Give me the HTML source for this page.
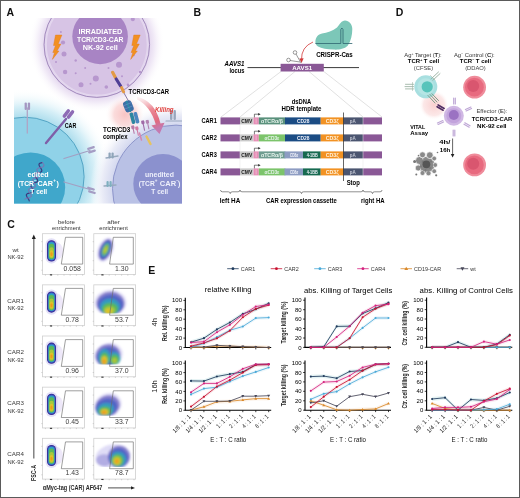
<!DOCTYPE html>
<html><head><meta charset="utf-8"><style>
html,body{margin:0;padding:0;background:#fff;}
body{width:520px;height:498px;overflow:hidden;}
svg{display:block;font-family:"Liberation Sans",sans-serif;will-change:transform;}
</style></head><body>
<svg width="520" height="498" viewBox="0 0 520 498">
<defs><clipPath id="cpA"><rect x="14" y="18" width="168" height="185.5"/></clipPath><clipPath id="cpTop"><circle cx="97" cy="45" r="54"/></clipPath><radialGradient id="gTop" cx="96.8" cy="44.6" r="68" gradientUnits="userSpaceOnUse">
      <stop offset="0.776" stop-color="#e6daf0"/><stop offset="0.86" stop-color="#f3edf8"/><stop offset="1" stop-color="#fff" stop-opacity="0"/></radialGradient><radialGradient id="gLeft" cx="24.6" cy="176.7" r="88" gradientUnits="userSpaceOnUse">
      <stop offset="0.66" stop-color="#aadcec"/><stop offset="0.8" stop-color="#d6eff7"/><stop offset="1" stop-color="#fff" stop-opacity="0"/></radialGradient><radialGradient id="gRight" cx="176" cy="188.6" r="86" gradientUnits="userSpaceOnUse">
      <stop offset="0.72" stop-color="#d0d5ee"/><stop offset="0.86" stop-color="#eaecf7"/><stop offset="1" stop-color="#fff" stop-opacity="0"/></radialGradient><radialGradient id="gPink" cx="0.5" cy="0.5" r="0.5">
      <stop offset="0" stop-color="#f8c4c4"/><stop offset="0.55" stop-color="#fad6d6" stop-opacity="0.85"/><stop offset="1" stop-color="#fff" stop-opacity="0"/></radialGradient><linearGradient id="gKill" x1="0" y1="0" x2="0.3" y2="1">
      <stop offset="0" stop-color="#f7d6da" stop-opacity="0.2"/><stop offset="0.45" stop-color="#ec8a96"/><stop offset="0.8" stop-color="#e06a80"/><stop offset="1" stop-color="#c47ab0"/></linearGradient><radialGradient id="gPinkD" cx="0.5" cy="0.5" r="0.5">
      <stop offset="0" stop-color="#f9d0d0"/><stop offset="0.7" stop-color="#fbe2e2" stop-opacity="0.8"/><stop offset="1" stop-color="#fff" stop-opacity="0"/></radialGradient><filter id="fb" x="-30%" y="-30%" width="160%" height="160%"><feGaussianBlur stdDeviation="0.7"/></filter><filter id="fb2" x="-30%" y="-30%" width="160%" height="160%"><feGaussianBlur stdDeviation="1.1"/></filter><clipPath id="cpC1"><rect x="90" y="284.8" width="50" height="28.6"/></clipPath><clipPath id="cpC2"><rect x="90" y="336.0" width="50" height="28.6"/></clipPath><clipPath id="cpC3"><rect x="90" y="387.1" width="50" height="28.6"/></clipPath><clipPath id="cpC4"><rect x="90" y="438.3" width="50" height="28.8"/></clipPath></defs>
<rect x="0" y="0" width="520" height="498" fill="#fff"/>
<g clip-path="url(#cpA)">
<rect x="14" y="18" width="168" height="186" fill="#fff"/>
<circle cx="24.6" cy="176.7" r="88" fill="url(#gLeft)"/>
<circle cx="176" cy="188.6" r="86" fill="url(#gRight)"/>
<circle cx="96.8" cy="44.6" r="68" fill="url(#gTop)"/>
<circle cx="96.8" cy="44.6" r="52.8" fill="#d7c4e5"/>
<circle cx="96.8" cy="44.6" r="51.0" fill="none" stroke="#e3d6ee" stroke-width="2.2"/>
<circle cx="96.8" cy="44.6" r="52.8" fill="none" stroke="#9c84b8" stroke-width="0.9"/>
<circle cx="100.1" cy="36.4" r="27.8" fill="#a884c4"/>
<circle cx="63" cy="42.5" r="2.1" fill="#b797ce"/>
<circle cx="64" cy="54" r="2.5" fill="#b797ce"/>
<circle cx="60.9" cy="32" r="1.0" fill="#b797ce"/>
<circle cx="75.7" cy="60.5" r="1.2" fill="#b797ce"/>
<circle cx="65.1" cy="72" r="2.2" fill="#b797ce"/>
<circle cx="75.7" cy="73.2" r="1.0" fill="#b797ce"/>
<circle cx="85.2" cy="68" r="1.0" fill="#b797ce"/>
<circle cx="81" cy="84.8" r="2.5" fill="#b797ce"/>
<circle cx="95.8" cy="78.5" r="3.0" fill="#b797ce"/>
<circle cx="106.3" cy="87" r="1.8" fill="#b797ce"/>
<circle cx="108.5" cy="68" r="1.0" fill="#b797ce"/>
<circle cx="119" cy="64.7" r="3.0" fill="#b797ce"/>
<circle cx="122" cy="76.3" r="1.0" fill="#b797ce"/>
<circle cx="133.8" cy="55.2" r="1.0" fill="#b797ce"/>
<circle cx="132.8" cy="19.2" r="2.0" fill="#b797ce"/>
<circle cx="90.5" cy="83.8" r="1.0" fill="#b797ce"/>
<circle cx="128" cy="85" r="1.4" fill="#b797ce"/>
<circle cx="140" cy="72" r="1.2" fill="#b797ce"/>
<circle cx="56" cy="62" r="1.0" fill="#b797ce"/>
<path transform="translate(52.4,35)" d="M3.1 0 L9.5 0 L5.8 9 L8.6 9 L4.6 16 L6.6 16 L0 24.4 L2.1 17.5 L0.4 17.5 L3.1 10.5 L1.1 10.5 Z" fill="#f29022" stroke="#e07a18" stroke-width="0.4"/>
<path transform="translate(130.7,35)" d="M3.1 0 L9.5 0 L5.8 9 L8.6 9 L4.6 16 L6.6 16 L0 24.4 L2.1 17.5 L0.4 17.5 L3.1 10.5 L1.1 10.5 Z" fill="#f29022" stroke="#e07a18" stroke-width="0.4"/>
<circle cx="24.6" cy="176.7" r="59.5" fill="#90d2e8"/>
<circle cx="24.6" cy="176.7" r="59.5" fill="none" stroke="#4c9ec0" stroke-width="0.9"/>
<circle cx="30.7" cy="186.9" r="34.5" fill="#40a7cb"/>
<circle cx="176" cy="188.6" r="63.5" fill="#b9c1e5"/>
<circle cx="176" cy="188.6" r="63.5" fill="none" stroke="#878ec6" stroke-width="0.9"/>
<circle cx="163" cy="183.7" r="29.7" fill="#8b91ce"/>
<circle cx="125" cy="114.5" r="20" fill="url(#gPink)"/>
<path d="M137 96.5 Q155 101 160.5 123.5 L164.5 122.8 L159.5 134 L151.5 125.5 L155.8 124.6 Q150.5 106 137 99.5 Z" fill="url(#gKill)"/>
<g stroke-linecap="round">
<line x1="27.3" y1="108" x2="27.3" y2="133" stroke="#b0a4c4" stroke-width="1.3"/>
<rect x="24.6" y="102.5" width="2.3" height="7.5" rx="1.1" fill="#a497c2"/><rect x="27.8" y="102.5" width="2.3" height="7.5" rx="1.1" fill="#a497c2"/>
<line x1="46" y1="143" x2="66" y2="119" stroke="#7f5fa8" stroke-width="2.4"/>
<rect x="64.6" y="108.5" width="3.4" height="10" rx="1.7" fill="#8e6cb6" transform="rotate(38 66.3 113.5)"/>
<rect x="68.8" y="109.5" width="3.4" height="10" rx="1.7" fill="#8e6cb6" transform="rotate(38 70.5 114.5)"/>
<line x1="64" y1="158.5" x2="90" y2="150.5" stroke="#a39fc2" stroke-width="1.3"/>
<rect x="87" y="146.8" width="8" height="2.3" rx="1.1" fill="#a59dc4" transform="rotate(-17 91 148)"/><rect x="88" y="150.3" width="8" height="2.3" rx="1.1" fill="#a59dc4" transform="rotate(-17 92 151.5)"/>
<line x1="64" y1="182" x2="90" y2="189.5" stroke="#a39fc2" stroke-width="1.3"/>
<rect x="87" y="187.5" width="8" height="2.3" rx="1.1" fill="#a59dc4" transform="rotate(17 91 188.6)"/><rect x="88" y="191" width="8" height="2.3" rx="1.1" fill="#a59dc4" transform="rotate(17 92 192)"/>
<polyline points="42.5,162.5 41.3,162.8 40.3,163.1 39.5,163.5 39.1,164.0 39.0,164.7 39.2,165.5 39.7,166.5 40.3,167.4 41.0,168.5 41.5,169.4 41.8,170.3 41.8,171.0 41.4,171.6 40.7,172.0 39.8,172.3 38.6,172.6 37.4,172.8 36.4,173.1 35.5,173.5 35.0,174.0 34.8,174.7 34.9,175.5 35.3,176.4 35.9,177.3 36.6,178.4 37.2,179.3 37.6,180.2 37.6,181.0 37.4,181.6 36.7,182.1 35.8,182.4 34.7,182.7 33.5,182.9 32.4,183.2 31.5,183.6 30.9,184.0 30.6,184.6 30.6,185.4 31.0,186.3 31.6,187.2 32.2,188.3 32.8,189.2 33.3,190.2 33.4,191.0 33.3,191.6 32.7,192.1 31.9,192.5 30.8,192.8 29.7,193.0 28.5,193.3 27.5,193.6 26.8,194.1 26.4,194.6 26.4,195.4 26.7,196.2 27.2,197.2 27.8,198.2 28.5,199.1 29.0,200.1 29.2,200.9" fill="none" stroke="#3b3a7e" stroke-width="1.2"/>
<polyline points="42.5,162.5 43.1,163.5 43.7,164.4 43.9,165.3 43.9,166.0 43.5,166.6 42.7,167.0 41.7,167.3 40.6,167.6 39.4,167.8 38.3,168.1 37.5,168.5 37.0,169.0 36.9,169.7 37.0,170.5 37.5,171.4 38.1,172.4 38.8,173.4 39.3,174.4 39.7,175.2 39.7,176.0 39.4,176.6 38.7,177.0 37.8,177.4 36.7,177.7 35.5,177.9 34.4,178.2 33.5,178.5 32.9,179.0 32.7,179.7 32.8,180.4 33.2,181.3 33.7,182.3 34.4,183.3 35.0,184.3 35.4,185.2 35.5,186.0 35.3,186.6 34.7,187.1 33.9,187.5 32.8,187.8 31.6,188.0 30.5,188.3 29.5,188.6 28.8,189.0 28.5,189.6 28.5,190.4 28.8,191.2 29.4,192.2 30.0,193.2 30.7,194.2 31.1,195.1 31.3,195.9 31.2,196.6 30.7,197.1 29.9,197.5 28.9,197.8 27.7,198.1 26.6,198.4 25.5,198.7 24.8,199.1" fill="none" stroke="#8a6ab0" stroke-width="1.0"/>
<line x1="106" y1="158" x2="118" y2="156" stroke="#98aabd" stroke-width="1.3"/>
<rect x="108.5" y="152.5" width="2.2" height="6" rx="1" fill="#8fa5b9"/><rect x="111.5" y="152.5" width="2.2" height="6" rx="1" fill="#8fa5b9"/>
<line x1="104" y1="186" x2="116" y2="185" stroke="#98aabd" stroke-width="1.3"/>
<rect x="106.5" y="181" width="2.2" height="6" rx="1" fill="#7fb0bf"/><rect x="109.5" y="181" width="2.2" height="6" rx="1" fill="#7fb0bf"/>
<rect x="170" y="110" width="2.4" height="10" rx="1" fill="#98a6bd"/><rect x="173.5" y="110" width="2.4" height="10" rx="1" fill="#98a6bd"/>
<line x1="166" y1="121" x2="182" y2="121" stroke="#98a6bd" stroke-width="1.2"/>
<line x1="112" y1="72" x2="128.5" y2="101" stroke="#6a5a90" stroke-width="0.8"/>
<line x1="112.6" y1="72.3" x2="115.4" y2="77.6" stroke="#e39a45" stroke-width="3.2"/>
<line x1="116.2" y1="79" x2="120.6" y2="86" stroke="#4f3f96" stroke-width="3.2"/>
<line x1="121.6" y1="87.6" x2="123.6" y2="91.8" stroke="#e39a45" stroke-width="3"/>
<g transform="rotate(-22 128.4 106.3)"><rect x="124" y="100.6" width="8.8" height="11.4" rx="3" fill="#3d6ea6"/><line x1="128.4" y1="101" x2="128.4" y2="111.6" stroke="#2a8aa6" stroke-width="1.6"/><line x1="124.5" y1="104" x2="132.3" y2="104" stroke="#6f9cc8" stroke-width="0.5"/><line x1="124.5" y1="107.5" x2="132.3" y2="107.5" stroke="#6f9cc8" stroke-width="0.5"/></g>
<rect x="130.6" y="112.5" width="3.6" height="11.5" rx="1.4" fill="#2d86a0" transform="rotate(-15 132.4 118)"/>
<rect x="134.6" y="112" width="3.6" height="11.5" rx="1.4" fill="#4b86bf" transform="rotate(-15 136.4 117.5)"/>
<g transform="rotate(-12 132.5 125.5)"><rect x="130.9" y="125.5" width="3.2" height="3.6" rx="1" fill="#b87aa8"/><line x1="132.5" y1="128.9" x2="132.5" y2="133.5" stroke="#b87aa8" stroke-width="1.1"/></g>
<g transform="rotate(-12 136.5 126.5)"><rect x="134.9" y="126.5" width="3.2" height="3.6" rx="1" fill="#d27aa2"/><line x1="136.5" y1="129.9" x2="136.5" y2="135.5" stroke="#d27aa2" stroke-width="1.1"/></g>
<g transform="rotate(-12 142.5 120.5)"><rect x="140.9" y="120.5" width="3.2" height="3.6" rx="1" fill="#a06aa8"/><line x1="142.5" y1="123.9" x2="142.5" y2="130.5" stroke="#a06aa8" stroke-width="1.1"/></g>
<g transform="rotate(-12 147 120)"><rect x="145.4" y="120" width="3.2" height="3.6" rx="1" fill="#b383b2"/><line x1="147" y1="123.4" x2="147" y2="129" stroke="#b383b2" stroke-width="1.1"/></g>
<line x1="146.5" y1="136.5" x2="150.5" y2="144" stroke="#e6c35e" stroke-width="2.4"/>
<line x1="139.5" y1="133" x2="141.5" y2="140" stroke="#d486b0" stroke-width="1.5"/>
</g>
<text x="100.30" y="34.00" font-size="7" font-weight="bold" text-anchor="middle" fill="#ffffff" textLength="43.80" lengthAdjust="spacingAndGlyphs">IRRADIATED</text>
<text x="100.30" y="42.30" font-size="7" font-weight="bold" text-anchor="middle" fill="#ffffff" textLength="46.50" lengthAdjust="spacingAndGlyphs">TCR/CD3-CAR</text>
<text x="100.30" y="50.40" font-size="7" font-weight="bold" text-anchor="middle" fill="#ffffff" textLength="35.00" lengthAdjust="spacingAndGlyphs">NK-92 cell</text>
<text x="38.00" y="177.20" font-size="7.0" font-weight="bold" text-anchor="middle" fill="#ffffff" textLength="21.00" lengthAdjust="spacingAndGlyphs">edited</text>
<text x="17.80" y="185.60" font-size="7.2" font-weight="bold" fill="#ffffff" textLength="16.20" lengthAdjust="spacingAndGlyphs">(TCR</text>
<text x="33.90" y="182.00" font-size="4.5" font-weight="bold" fill="#ffffff">−</text>
<text x="37.40" y="185.60" font-size="7.2" font-weight="bold" fill="#ffffff" textLength="15.60" lengthAdjust="spacingAndGlyphs">CAR</text>
<text x="53.30" y="182.00" font-size="4.5" font-weight="bold" fill="#ffffff">+</text>
<text x="56.40" y="185.60" font-size="7.2" font-weight="bold" fill="#ffffff">)</text>
<text x="38.75" y="194.00" font-size="7.2" font-weight="bold" text-anchor="middle" fill="#ffffff" textLength="16.90" lengthAdjust="spacingAndGlyphs">T cell</text>
<text x="159.50" y="176.80" font-size="7.0" font-weight="bold" text-anchor="middle" fill="#eef0fb" textLength="28.80" lengthAdjust="spacingAndGlyphs">unedited</text>
<text x="138.80" y="185.60" font-size="7.2" font-weight="bold" fill="#eef0fb" textLength="15.90" lengthAdjust="spacingAndGlyphs">(TCR</text>
<text x="154.80" y="182.00" font-size="4.5" font-weight="bold" fill="#eef0fb">+</text>
<text x="159.80" y="185.60" font-size="7.2" font-weight="bold" fill="#eef0fb" textLength="16.30" lengthAdjust="spacingAndGlyphs">CAR</text>
<text x="176.20" y="182.00" font-size="4.5" font-weight="bold" fill="#eef0fb">−</text>
<text x="177.90" y="185.60" font-size="7.2" font-weight="bold" fill="#eef0fb">)</text>
<text x="159.70" y="194.00" font-size="7.2" font-weight="bold" text-anchor="middle" fill="#eef0fb" textLength="16.80" lengthAdjust="spacingAndGlyphs">T cell</text>
</g>
<text x="64.70" y="127.60" font-size="6.8" font-weight="bold" textLength="11.60" lengthAdjust="spacingAndGlyphs">CAR</text>
<text x="128.60" y="94.00" font-size="6.8" font-weight="bold" textLength="40.40" lengthAdjust="spacingAndGlyphs">TCR/CD3-CAR</text>
<text x="155.00" y="111.60" font-size="6.8" font-weight="bold" fill="#e0403c" textLength="18.60" lengthAdjust="spacingAndGlyphs" font-style="italic">Killing</text>
<text x="103.00" y="132.40" font-size="6.8" font-weight="bold" textLength="27.30" lengthAdjust="spacingAndGlyphs">TCR/CD3</text>
<text x="103.00" y="139.20" font-size="6.8" font-weight="bold" textLength="24.50" lengthAdjust="spacingAndGlyphs">complex</text>
<text x="244.50" y="65.80" font-size="6.8" font-weight="bold" text-anchor="end" textLength="20.00" lengthAdjust="spacingAndGlyphs" font-style="italic">AAVS1</text>
<text x="244.50" y="73.20" font-size="6.8" font-weight="bold" text-anchor="end" textLength="15.00" lengthAdjust="spacingAndGlyphs">locus</text>
<line x1="247.5" y1="67.6" x2="359" y2="67.6" stroke="#222" stroke-width="0.9"/>
<g stroke="#d4d4d4" stroke-width="0.7">
<line x1="281" y1="71.5" x2="221" y2="117"/>
<line x1="295" y1="71.5" x2="240" y2="117"/>
<line x1="323.8" y1="71.5" x2="382" y2="117"/>
<line x1="309" y1="71.5" x2="363" y2="117"/>
</g>
<rect x="280.6" y="63.8" width="43.2" height="7.7" fill="#8a5896"/>
<text x="302.20" y="70.20" font-size="6.2" font-weight="bold" text-anchor="middle" fill="#ffffff" textLength="20.00" lengthAdjust="spacingAndGlyphs">AAVS1</text>
<path d="M315.4 42 C315.5 37 318 34.5 322 33.5 C327 32.5 333 31 337 27.5 C340 24 341.5 20.5 345 20.4 C349 20.4 352.3 24 352.3 29 C352.3 35 351 41 347.7 45.8 C344 49.5 338 49.8 333.8 49.6 C327 49.3 321.5 48.5 318 46.5 C316 45 315.4 43.5 315.4 42 Z" fill="#7cc7b8"/>
<path d="M315.4 43.5 L340.8 43.5 L340.8 29.5 Q341.9 26.5 343 29.5 L343 43.5 L352.3 43.5" fill="none" stroke="#2f6470" stroke-width="0.8"/>
<text x="316.20" y="57.20" font-size="6.4" font-weight="bold" textLength="36.50" lengthAdjust="spacingAndGlyphs">CRISPR-Cas</text>
<path d="M313 42 Q301 47 301.5 60" fill="none" stroke="#d23a3a" stroke-width="0.8"/>
<path d="M299.3 58.5 L301.6 63 L303.6 58.3 Z" fill="#d23a3a"/>
<g fill="none" stroke="#555" stroke-width="0.6"><circle cx="295" cy="52.5" r="1.8"/><circle cx="288.5" cy="60" r="1.8"/><path d="M296 54 L301 63 M290 60.5 L300 62"/></g>
<text x="301.50" y="103.60" font-size="6.8" font-weight="bold" text-anchor="middle" textLength="19.50" lengthAdjust="spacingAndGlyphs">dsDNA</text>
<text x="301.50" y="110.60" font-size="6.8" font-weight="bold" text-anchor="middle" textLength="40.00" lengthAdjust="spacingAndGlyphs">HDR template</text>
<text x="216.80" y="122.80" font-size="6.8" font-weight="bold" text-anchor="end" textLength="15.30" lengthAdjust="spacingAndGlyphs">CAR1</text>
<rect x="220.5" y="117.4" width="19.5" height="7" fill="#8a5896"/>
<rect x="240" y="117.4" width="13.5" height="7" fill="#c9c9c9"/>
<text x="246.80" y="122.80" font-size="5.4" font-weight="bold" text-anchor="middle" fill="#1a1a1a" textLength="11.00" lengthAdjust="spacingAndGlyphs">CMV</text>
<rect x="253.5" y="117.4" width="5.3" height="7" fill="#e58db5"/>
<line x1="256.1" y1="118.4" x2="256.1" y2="123.4" stroke="#f7d5e4" stroke-width="0.6"/>
<rect x="258.8" y="117.4" width="26.6" height="7" fill="#5a917c"/>
<text x="271.90" y="122.80" font-size="5.2" font-weight="bold" text-anchor="middle" fill="#e6f3ec" textLength="22.00" lengthAdjust="spacingAndGlyphs">αTCRα/β</text>
<rect x="285" y="117.4" width="35.7" height="7" fill="#1b4c84"/>
<text x="303.15" y="122.80" font-size="5.0" font-weight="bold" text-anchor="middle" fill="#f0f2fa" textLength="12.50" lengthAdjust="spacingAndGlyphs">CD28</text>
<rect x="320.7" y="117.4" width="22.8" height="7" fill="#f29223"/>
<text x="332.20" y="122.80" font-size="5.2" font-weight="bold" text-anchor="middle" fill="#fff3df" textLength="13.00" lengthAdjust="spacingAndGlyphs">CD3ζ</text>
<rect x="343.5" y="117.4" width="19.5" height="7" fill="#4b5570"/>
<text x="352.80" y="122.80" font-size="5.2" font-weight="bold" text-anchor="middle" fill="#c4c8d4" textLength="6.00" lengthAdjust="spacingAndGlyphs">pA</text>
<rect x="363" y="117.4" width="19" height="7" fill="#8a5896"/>
<path d="M254.4 117.4 L254.4 114.2 L258.5 114.2" fill="none" stroke="#222" stroke-width="0.6"/>
<path d="M258.2 112.9 L260.6 114.2 L258.2 115.5 Z" fill="#222"/>
<text x="216.80" y="139.80" font-size="6.8" font-weight="bold" text-anchor="end" textLength="15.30" lengthAdjust="spacingAndGlyphs">CAR2</text>
<rect x="220.5" y="134.4" width="19.5" height="7" fill="#8a5896"/>
<rect x="240" y="134.4" width="13.5" height="7" fill="#c9c9c9"/>
<text x="246.80" y="139.80" font-size="5.4" font-weight="bold" text-anchor="middle" fill="#1a1a1a" textLength="11.00" lengthAdjust="spacingAndGlyphs">CMV</text>
<rect x="253.5" y="134.4" width="5.3" height="7" fill="#e58db5"/>
<line x1="256.1" y1="135.4" x2="256.1" y2="140.4" stroke="#f7d5e4" stroke-width="0.6"/>
<rect x="258.8" y="134.4" width="26.6" height="7" fill="#7cc46b"/>
<text x="271.90" y="139.80" font-size="5.2" font-weight="bold" text-anchor="middle" fill="#e6f3ec" textLength="15.00" lengthAdjust="spacingAndGlyphs">αCD3ε</text>
<rect x="285" y="134.4" width="35.7" height="7" fill="#1b4c84"/>
<text x="303.15" y="139.80" font-size="5.0" font-weight="bold" text-anchor="middle" fill="#f0f2fa" textLength="12.50" lengthAdjust="spacingAndGlyphs">CD28</text>
<rect x="320.7" y="134.4" width="22.8" height="7" fill="#f29223"/>
<text x="332.20" y="139.80" font-size="5.2" font-weight="bold" text-anchor="middle" fill="#fff3df" textLength="13.00" lengthAdjust="spacingAndGlyphs">CD3ζ</text>
<rect x="343.5" y="134.4" width="19.5" height="7" fill="#4b5570"/>
<text x="352.80" y="139.80" font-size="5.2" font-weight="bold" text-anchor="middle" fill="#c4c8d4" textLength="6.00" lengthAdjust="spacingAndGlyphs">pA</text>
<rect x="363" y="134.4" width="19" height="7" fill="#8a5896"/>
<path d="M254.4 134.4 L254.4 131.20000000000002 L258.5 131.20000000000002" fill="none" stroke="#222" stroke-width="0.6"/>
<path d="M258.2 129.9 L260.6 131.20000000000002 L258.2 132.5 Z" fill="#222"/>
<text x="216.80" y="156.80" font-size="6.8" font-weight="bold" text-anchor="end" textLength="15.30" lengthAdjust="spacingAndGlyphs">CAR3</text>
<rect x="220.5" y="151.4" width="19.5" height="7" fill="#8a5896"/>
<rect x="240" y="151.4" width="13.5" height="7" fill="#c9c9c9"/>
<text x="246.80" y="156.80" font-size="5.4" font-weight="bold" text-anchor="middle" fill="#1a1a1a" textLength="11.00" lengthAdjust="spacingAndGlyphs">CMV</text>
<rect x="253.5" y="151.4" width="5.3" height="7" fill="#e58db5"/>
<line x1="256.1" y1="152.4" x2="256.1" y2="157.4" stroke="#f7d5e4" stroke-width="0.6"/>
<rect x="258.8" y="151.4" width="26.6" height="7" fill="#6e9c90"/>
<text x="271.90" y="156.80" font-size="5.2" font-weight="bold" text-anchor="middle" fill="#e6f3ec" textLength="22.00" lengthAdjust="spacingAndGlyphs">αTCRα/β</text>
<rect x="284.5" y="151.4" width="18.5" height="7" fill="#8d9cc2"/>
<text x="294.05" y="156.80" font-size="5.0" font-weight="bold" text-anchor="middle" fill="#f0f2fa" textLength="8.20" lengthAdjust="spacingAndGlyphs">CD8α</text>
<rect x="303" y="151.4" width="17.7" height="7" fill="#176a50"/>
<text x="312.15" y="156.80" font-size="5.0" font-weight="bold" text-anchor="middle" fill="#f0f2fa" textLength="11.00" lengthAdjust="spacingAndGlyphs">4-1BB</text>
<rect x="320.7" y="151.4" width="22.8" height="7" fill="#f29223"/>
<text x="332.20" y="156.80" font-size="5.2" font-weight="bold" text-anchor="middle" fill="#fff3df" textLength="13.00" lengthAdjust="spacingAndGlyphs">CD3ζ</text>
<rect x="343.5" y="151.4" width="19.5" height="7" fill="#4b5570"/>
<text x="352.80" y="156.80" font-size="5.2" font-weight="bold" text-anchor="middle" fill="#c4c8d4" textLength="6.00" lengthAdjust="spacingAndGlyphs">pA</text>
<rect x="363" y="151.4" width="19" height="7" fill="#8a5896"/>
<path d="M254.4 151.4 L254.4 148.20000000000002 L258.5 148.20000000000002" fill="none" stroke="#222" stroke-width="0.6"/>
<path d="M258.2 146.9 L260.6 148.20000000000002 L258.2 149.5 Z" fill="#222"/>
<text x="216.80" y="173.80" font-size="6.8" font-weight="bold" text-anchor="end" textLength="15.30" lengthAdjust="spacingAndGlyphs">CAR4</text>
<rect x="220.5" y="168.4" width="19.5" height="7" fill="#8a5896"/>
<rect x="240" y="168.4" width="13.5" height="7" fill="#c9c9c9"/>
<text x="246.80" y="173.80" font-size="5.4" font-weight="bold" text-anchor="middle" fill="#1a1a1a" textLength="11.00" lengthAdjust="spacingAndGlyphs">CMV</text>
<rect x="253.5" y="168.4" width="5.3" height="7" fill="#e58db5"/>
<line x1="256.1" y1="169.4" x2="256.1" y2="174.4" stroke="#f7d5e4" stroke-width="0.6"/>
<rect x="258.8" y="168.4" width="26.6" height="7" fill="#7cc46b"/>
<text x="271.90" y="173.80" font-size="5.2" font-weight="bold" text-anchor="middle" fill="#e6f3ec" textLength="15.00" lengthAdjust="spacingAndGlyphs">αCD3ε</text>
<rect x="284.5" y="168.4" width="18.5" height="7" fill="#8d9cc2"/>
<text x="294.05" y="173.80" font-size="5.0" font-weight="bold" text-anchor="middle" fill="#f0f2fa" textLength="8.20" lengthAdjust="spacingAndGlyphs">CD8α</text>
<rect x="303" y="168.4" width="17.7" height="7" fill="#176a50"/>
<text x="312.15" y="173.80" font-size="5.0" font-weight="bold" text-anchor="middle" fill="#f0f2fa" textLength="11.00" lengthAdjust="spacingAndGlyphs">4-1BB</text>
<rect x="320.7" y="168.4" width="22.8" height="7" fill="#f29223"/>
<text x="332.20" y="173.80" font-size="5.2" font-weight="bold" text-anchor="middle" fill="#fff3df" textLength="13.00" lengthAdjust="spacingAndGlyphs">CD3ζ</text>
<rect x="343.5" y="168.4" width="19.5" height="7" fill="#4b5570"/>
<text x="352.80" y="173.80" font-size="5.2" font-weight="bold" text-anchor="middle" fill="#c4c8d4" textLength="6.00" lengthAdjust="spacingAndGlyphs">pA</text>
<rect x="363" y="168.4" width="19" height="7" fill="#8a5896"/>
<path d="M254.4 168.4 L254.4 165.20000000000002 L258.5 165.20000000000002" fill="none" stroke="#222" stroke-width="0.6"/>
<path d="M258.2 163.9 L260.6 165.20000000000002 L258.2 166.5 Z" fill="#222"/>
<line x1="363" y1="117" x2="363" y2="176" stroke="#e4e4e4" stroke-width="0.5"/>
<line x1="240" y1="124.5" x2="240" y2="168.5" stroke="#e4e4e4" stroke-width="0.5"/>
<line x1="343.5" y1="112.5" x2="343.5" y2="181" stroke="#222" stroke-width="0.7"/>
<text x="346.70" y="185.00" font-size="6.8" font-weight="bold" textLength="13.10" lengthAdjust="spacingAndGlyphs">Stop</text>
<path d="M220.5 190 Q220.5 191.8 222.5 191.8 L228.25 191.8 Q230.25 191.8 230.25 193.6 Q230.25 191.8 232.25 191.8 L238 191.8 Q240 191.8 240 190" fill="none" stroke="#444" stroke-width="0.6"/>
<path d="M240 190 Q240 191.8 242 191.8 L299.5 191.8 Q301.5 191.8 301.5 193.6 Q301.5 191.8 303.5 191.8 L361 191.8 Q363 191.8 363 190" fill="none" stroke="#444" stroke-width="0.6"/>
<path d="M363 190 Q363 191.8 365 191.8 L370.5 191.8 Q372.5 191.8 372.5 193.6 Q372.5 191.8 374.5 191.8 L380 191.8 Q382 191.8 382 190" fill="none" stroke="#444" stroke-width="0.6"/>
<text x="219.80" y="203.00" font-size="6.8" font-weight="bold" textLength="20.50" lengthAdjust="spacingAndGlyphs">left HA</text>
<text x="266.00" y="203.00" font-size="6.8" font-weight="bold" textLength="70.70" lengthAdjust="spacingAndGlyphs">CAR expression cassette</text>
<text x="361.00" y="202.80" font-size="6.8" font-weight="bold" textLength="23.60" lengthAdjust="spacingAndGlyphs">right HA</text>
<text x="404.30" y="57.00" font-size="5.8" fill="#333">Ag<tspan font-size="3.5" dy="-2.2">+</tspan><tspan dy="2.2"> Target (</tspan><tspan font-weight="bold">T</tspan>):</text>
<text x="423.50" y="63.20" font-size="6.0" font-weight="bold" text-anchor="middle">TCR<tspan font-size="3.5" dy="-2.2">+</tspan><tspan dy="2.2"> T cell</tspan></text>
<text x="423.50" y="69.50" font-size="5.8" text-anchor="middle" fill="#444">(CFSE)</text>
<text x="454.00" y="57.00" font-size="5.8" fill="#333">Ag<tspan font-size="3.5" dy="-2.2">−</tspan><tspan dy="2.2"> Control (</tspan><tspan font-weight="bold">C</tspan>):</text>
<text x="475.50" y="63.20" font-size="6.0" font-weight="bold" text-anchor="middle">TCR<tspan font-size="3.5" dy="-2.2">−</tspan><tspan dy="2.2"> T cell</tspan></text>
<text x="475.50" y="69.50" font-size="5.8" text-anchor="middle" fill="#444">(DDAO)</text>
<circle cx="434" cy="105" r="15" fill="url(#gPinkD)"/>
<circle cx="425.8" cy="86.8" r="11.5" fill="#a8dfe0"/>
<circle cx="425.8" cy="86.8" r="8.5" fill="#b5e5e4"/>
<circle cx="427.2" cy="86.8" r="5.6" fill="#58c4bb"/>
<circle cx="474.6" cy="87.2" r="11.4" fill="#ef8c9b"/>
<circle cx="474.4" cy="87.2" r="9.4" fill="#e86a7f"/>
<circle cx="473.2" cy="86.0" r="6" fill="#d9566f"/>
<circle cx="474.6" cy="164.9" r="11.4" fill="#ef8c9b"/>
<circle cx="474.4" cy="164.9" r="9.4" fill="#e86a7f"/>
<circle cx="473.2" cy="163.70000000000002" r="6" fill="#d9566f"/>
<circle cx="453.8" cy="115.7" r="10" fill="#d0b8e4"/>
<circle cx="453.8" cy="115.7" r="7.5" fill="#c2a3dc"/>
<circle cx="453.8" cy="115" r="5" fill="#9b72c2"/>
<g stroke="#9fb5a6" stroke-width="0.9" stroke-linecap="round"><line x1="405.5" y1="84.3" x2="413.5" y2="84.3"/><line x1="405" y1="86.6" x2="413.5" y2="86.6"/><line x1="405.5" y1="88.9" x2="413.5" y2="88.9"/><line x1="412.5" y1="82.5" x2="412.5" y2="90.5" stroke-width="0.6"/></g>
<g stroke="#9fb5a6" stroke-width="1.0" stroke-linecap="round"><line x1="431" y1="79" x2="438.5" y2="72"/><line x1="432.8" y1="80.3" x2="440" y2="73.6"/><line x1="430.5" y1="75.5" x2="435" y2="80" stroke-width="0.6"/></g>
<g stroke="#7f9c88" stroke-width="1.0" stroke-linecap="round"><line x1="428" y1="95.5" x2="435" y2="103"/><line x1="430" y1="94.5" x2="437" y2="102"/><line x1="432" y1="93.8" x2="438.5" y2="100.5"/></g>
<g transform="translate(440.6,107.6) rotate(30)" stroke="#4e2c62" stroke-width="1.6" stroke-linecap="round"><line x1="-3.5" y1="-1.05" x2="3.5" y2="-1.05"/><line x1="-3.5" y1="1.05" x2="3.5" y2="1.05"/></g>
<g transform="translate(454.5,101) rotate(90)" stroke="#bfa8d6" stroke-width="1.2" stroke-linecap="round"><line x1="-3.0" y1="-0.8" x2="3.0" y2="-0.8"/><line x1="-3.0" y1="0.8" x2="3.0" y2="0.8"/></g>
<g transform="translate(468.5,109) rotate(-25)" stroke="#bfa8d6" stroke-width="1.2" stroke-linecap="round"><line x1="-3.0" y1="-0.8" x2="3.0" y2="-0.8"/><line x1="-3.0" y1="0.8" x2="3.0" y2="0.8"/></g>
<g transform="translate(467,125) rotate(30)" stroke="#bfa8d6" stroke-width="1.2" stroke-linecap="round"><line x1="-3.0" y1="-0.8" x2="3.0" y2="-0.8"/><line x1="-3.0" y1="0.8" x2="3.0" y2="0.8"/></g>
<g transform="translate(454,133) rotate(90)" stroke="#bfa8d6" stroke-width="1.2" stroke-linecap="round"><line x1="-3.0" y1="-0.8" x2="3.0" y2="-0.8"/><line x1="-3.0" y1="0.8" x2="3.0" y2="0.8"/></g>
<g transform="translate(440.5,122.5) rotate(-25)" stroke="#bfa8d6" stroke-width="1.2" stroke-linecap="round"><line x1="-3.0" y1="-0.8" x2="3.0" y2="-0.8"/><line x1="-3.0" y1="0.8" x2="3.0" y2="0.8"/></g>
<text x="476.40" y="113.40" font-size="5.9" fill="#444" textLength="31.00" lengthAdjust="spacingAndGlyphs">Effector (<tspan font-weight="bold">E</tspan>):</text>
<text x="492.00" y="120.80" font-size="6.0" font-weight="bold" text-anchor="middle" textLength="40.50" lengthAdjust="spacingAndGlyphs">TCR/CD3-CAR</text>
<text x="491.80" y="127.90" font-size="6.0" font-weight="bold" text-anchor="middle" textLength="29.50" lengthAdjust="spacingAndGlyphs">NK-92 cell</text>
<text x="410.20" y="128.50" font-size="6.0" font-weight="bold" textLength="15.00" lengthAdjust="spacingAndGlyphs">VITAL</text>
<text x="410.20" y="135.40" font-size="6.0" font-weight="bold" textLength="18.00" lengthAdjust="spacingAndGlyphs">Assay</text>
<line x1="452.6" y1="138.5" x2="452.6" y2="155" stroke="#222" stroke-width="0.7"/>
<path d="M450.8 154 L452.6 157.5 L454.4 154 Z" fill="#222"/>
<text x="450.30" y="144.30" font-size="6.0" font-weight="bold" text-anchor="end" textLength="11.00" lengthAdjust="spacingAndGlyphs">4h/</text>
<text x="450.30" y="152.00" font-size="6.0" font-weight="bold" text-anchor="end" textLength="10.50" lengthAdjust="spacingAndGlyphs">16h</text>
<g>
<circle cx="426.5" cy="165" r="8.2" fill="#8e8e8e"/>
<circle cx="419.5" cy="160.5" r="4.0" fill="#8a8a8a" stroke="#fff" stroke-width="0.7"/>
<circle cx="422.5" cy="154.8" r="3.0" fill="#8a8a8a" stroke="#fff" stroke-width="0.7"/>
<circle cx="429.8" cy="155.2" r="3.4" fill="#8a8a8a" stroke="#fff" stroke-width="0.7"/>
<circle cx="434.2" cy="158.5" r="2.4" fill="#8a8a8a" stroke="#fff" stroke-width="0.7"/>
<circle cx="435.2" cy="165" r="2.4" fill="#8a8a8a" stroke="#fff" stroke-width="0.7"/>
<circle cx="434.2" cy="171.2" r="2.4" fill="#8a8a8a" stroke="#fff" stroke-width="0.7"/>
<circle cx="428.5" cy="173.2" r="2.6" fill="#8a8a8a" stroke="#fff" stroke-width="0.7"/>
<circle cx="422.5" cy="173" r="2.5" fill="#8a8a8a" stroke="#fff" stroke-width="0.7"/>
<circle cx="418.2" cy="168" r="3.0" fill="#8a8a8a" stroke="#fff" stroke-width="0.7"/>
<circle cx="426.5" cy="165" r="6.6" fill="#888"/>
<circle cx="414.6" cy="161.5" r="1.5" fill="#777"/>
<circle cx="416.3" cy="174.6" r="1.0" fill="#777"/>
<circle cx="436.2" cy="175.3" r="1.1" fill="#777"/>
<circle cx="418.5" cy="155.6" r="0.8" fill="#777"/>
<circle cx="437.5" cy="152.5" r="0.8" fill="#777"/>
<circle cx="423" cy="162" r="1.2" fill="#7a7a7a"/>
<circle cx="430" cy="168" r="1.1" fill="#7a7a7a"/>
<circle cx="421" cy="166.5" r="1.0" fill="#7a7a7a"/>
<circle cx="431" cy="161.5" r="1.0" fill="#7a7a7a"/>
<circle cx="425.5" cy="170" r="1.0" fill="#7a7a7a"/>
<circle cx="426.4" cy="164.3" r="3.9" fill="#565656"/>
</g>
<text x="66.40" y="223.60" font-size="6.0" text-anchor="middle" fill="#333" textLength="17.00" lengthAdjust="spacingAndGlyphs">before</text>
<text x="66.40" y="230.20" font-size="6.0" text-anchor="middle" fill="#333" textLength="28.60" lengthAdjust="spacingAndGlyphs">enrichment</text>
<text x="113.50" y="223.60" font-size="6.0" text-anchor="middle" fill="#333" textLength="12.50" lengthAdjust="spacingAndGlyphs">after</text>
<text x="113.50" y="230.20" font-size="6.0" text-anchor="middle" fill="#333" textLength="28.60" lengthAdjust="spacingAndGlyphs">enrichment</text>
<line x1="33.8" y1="238" x2="33.8" y2="458.4" stroke="#707070" stroke-width="1.3"/>
<path d="M31.8 239 L33.8 234.6 L35.8 239 Z" fill="#222"/>
<text transform="translate(36.2,481) rotate(-90)" font-size="6.6" font-weight="bold" fill="#2a2a2a" textLength="16.2" lengthAdjust="spacingAndGlyphs">FSC-A</text>
<text x="42.80" y="489.80" font-size="7.0" font-weight="bold" fill="#2a2a2a" textLength="59.50" lengthAdjust="spacingAndGlyphs">αMyc-tag (CAR) AF647</text>
<line x1="108" y1="487.9" x2="132" y2="487.9" stroke="#222" stroke-width="0.8"/>
<path d="M131 486.2 L135 487.9 L131 489.6 Z" fill="#222"/>
<text x="15.60" y="251.60" font-size="6.2" text-anchor="middle" fill="#3a3a3a">wt</text>
<text x="15.60" y="259.20" font-size="6.2" text-anchor="middle" fill="#3a3a3a" textLength="16.40" lengthAdjust="spacingAndGlyphs">NK-92</text>
<rect x="42.4" y="233.70" width="42.0" height="40.8" fill="#fff" stroke="#cfcfcf" stroke-width="0.8"/>
<line x1="45.4" y1="274.5" x2="45.4" y2="275.7" stroke="#aaa" stroke-width="0.5"/>
<line x1="51.6" y1="274.5" x2="51.6" y2="275.7" stroke="#aaa" stroke-width="0.5"/>
<line x1="57.8" y1="274.5" x2="57.8" y2="275.7" stroke="#aaa" stroke-width="0.5"/>
<line x1="64.0" y1="274.5" x2="64.0" y2="275.7" stroke="#aaa" stroke-width="0.5"/>
<line x1="70.2" y1="274.5" x2="70.2" y2="275.7" stroke="#aaa" stroke-width="0.5"/>
<line x1="76.4" y1="274.5" x2="76.4" y2="275.7" stroke="#aaa" stroke-width="0.5"/>
<line x1="82.6" y1="274.5" x2="82.6" y2="275.7" stroke="#aaa" stroke-width="0.5"/>
<line x1="41.3" y1="241.7" x2="42.4" y2="241.7" stroke="#aaa" stroke-width="0.5"/>
<line x1="41.3" y1="251.2" x2="42.4" y2="251.2" stroke="#aaa" stroke-width="0.5"/>
<line x1="41.3" y1="260.7" x2="42.4" y2="260.7" stroke="#aaa" stroke-width="0.5"/>
<line x1="41.3" y1="270.2" x2="42.4" y2="270.2" stroke="#aaa" stroke-width="0.5"/>
<rect x="49.9" y="274.3" width="2.2" height="1.1" fill="#333"/>
<g filter="url(#fb)">
<ellipse cx="56.5" cy="251.2" rx="6.5" ry="9" fill="#d9cdf2" opacity="0.45"/>
<rect x="45.50" y="238.30" width="12.00" height="25.20" rx="6.00" fill="#b9b2ec" opacity="0.4"/>
<rect x="47.00" y="240.30" width="9.00" height="21.20" rx="4.50" fill="#35288e" opacity="1"/>
<rect x="47.70" y="241.10" width="7.60" height="19.60" rx="3.80" fill="#3d4fbf" opacity="1"/>
<rect x="48.30" y="242.10" width="6.40" height="17.80" rx="3.20" fill="#2e9fc4" opacity="1"/>
<rect x="48.80" y="243.80" width="5.40" height="15.30" rx="2.70" fill="#5cb85a" opacity="1"/>
<rect x="49.30" y="247.30" width="4.40" height="11.00" rx="2.20" fill="#a8c83a" opacity="1"/>
<rect x="49.80" y="250.30" width="3.40" height="7.00" rx="1.70" fill="#dcc22c" opacity="1"/>
<rect x="50.50" y="252.30" width="2.00" height="3.70" rx="1.00" fill="#ee9a1c" opacity="1"/>
</g>
<path d="M65.5 237.3 L82.7 237.3 L82.7 264.1 L61.3 264.1 Z" fill="none" stroke="#6a6a6a" stroke-width="0.65"/>
<text x="72.20" y="270.60" font-size="6.9" text-anchor="middle" fill="#404040">0.058</text>
<rect x="93.8" y="233.70" width="41.8" height="40.8" fill="#fff" stroke="#cfcfcf" stroke-width="0.8"/>
<line x1="96.8" y1="274.5" x2="96.8" y2="275.7" stroke="#aaa" stroke-width="0.5"/>
<line x1="103.0" y1="274.5" x2="103.0" y2="275.7" stroke="#aaa" stroke-width="0.5"/>
<line x1="109.2" y1="274.5" x2="109.2" y2="275.7" stroke="#aaa" stroke-width="0.5"/>
<line x1="115.4" y1="274.5" x2="115.4" y2="275.7" stroke="#aaa" stroke-width="0.5"/>
<line x1="121.6" y1="274.5" x2="121.6" y2="275.7" stroke="#aaa" stroke-width="0.5"/>
<line x1="127.8" y1="274.5" x2="127.8" y2="275.7" stroke="#aaa" stroke-width="0.5"/>
<line x1="134.0" y1="274.5" x2="134.0" y2="275.7" stroke="#aaa" stroke-width="0.5"/>
<line x1="92.7" y1="241.7" x2="93.8" y2="241.7" stroke="#aaa" stroke-width="0.5"/>
<line x1="92.7" y1="251.2" x2="93.8" y2="251.2" stroke="#aaa" stroke-width="0.5"/>
<line x1="92.7" y1="260.7" x2="93.8" y2="260.7" stroke="#aaa" stroke-width="0.5"/>
<line x1="92.7" y1="270.2" x2="93.8" y2="270.2" stroke="#aaa" stroke-width="0.5"/>
<rect x="101.3" y="274.3" width="2.2" height="1.1" fill="#333"/>
<g filter="url(#fb2)">
<ellipse cx="105.5" cy="249.7" rx="7.5" ry="12.5" fill="#b9b2ec" opacity="0.5" transform="rotate(22 105.5 249.7)"/>
<ellipse cx="105.5" cy="249.7" rx="5.6" ry="10.8" fill="#4a3fb0" opacity="0.85" transform="rotate(22 105.5 249.7)"/>
<ellipse cx="105.5" cy="249.7" rx="4.5" ry="9.3" fill="#4a66c4" opacity="0.85" transform="rotate(22 105.5 249.7)"/>
<ellipse cx="105.5" cy="249.7" rx="3.5" ry="7.5" fill="#3aa6b8" opacity="0.9" transform="rotate(22 105.5 249.7)"/>
<ellipse cx="105.5" cy="249.7" rx="2.6" ry="5.8" fill="#7db84a" opacity="0.95" transform="rotate(22 105.5 249.7)"/>
<ellipse cx="105.5" cy="249.7" rx="1.6" ry="3.6" fill="#b6c93a" opacity="0.95" transform="rotate(22 105.5 249.7)"/>
</g>
<path d="M113.3 237.3 L133.3 237.3 L133.3 264.1 L109.6 264.1 Z" fill="none" stroke="#6a6a6a" stroke-width="0.65"/>
<text x="121.80" y="270.60" font-size="6.9" text-anchor="middle" fill="#404040">1.30</text>
<text x="15.60" y="302.75" font-size="6.2" text-anchor="middle" fill="#3a3a3a">CAR1</text>
<text x="15.60" y="310.35" font-size="6.2" text-anchor="middle" fill="#3a3a3a" textLength="16.40" lengthAdjust="spacingAndGlyphs">NK-92</text>
<rect x="42.4" y="284.85" width="42.0" height="40.8" fill="#fff" stroke="#cfcfcf" stroke-width="0.8"/>
<line x1="45.4" y1="325.6" x2="45.4" y2="326.8" stroke="#aaa" stroke-width="0.5"/>
<line x1="51.6" y1="325.6" x2="51.6" y2="326.8" stroke="#aaa" stroke-width="0.5"/>
<line x1="57.8" y1="325.6" x2="57.8" y2="326.8" stroke="#aaa" stroke-width="0.5"/>
<line x1="64.0" y1="325.6" x2="64.0" y2="326.8" stroke="#aaa" stroke-width="0.5"/>
<line x1="70.2" y1="325.6" x2="70.2" y2="326.8" stroke="#aaa" stroke-width="0.5"/>
<line x1="76.4" y1="325.6" x2="76.4" y2="326.8" stroke="#aaa" stroke-width="0.5"/>
<line x1="82.6" y1="325.6" x2="82.6" y2="326.8" stroke="#aaa" stroke-width="0.5"/>
<line x1="41.3" y1="292.8" x2="42.4" y2="292.8" stroke="#aaa" stroke-width="0.5"/>
<line x1="41.3" y1="302.3" x2="42.4" y2="302.3" stroke="#aaa" stroke-width="0.5"/>
<line x1="41.3" y1="311.8" x2="42.4" y2="311.8" stroke="#aaa" stroke-width="0.5"/>
<line x1="41.3" y1="321.3" x2="42.4" y2="321.3" stroke="#aaa" stroke-width="0.5"/>
<rect x="49.9" y="325.4" width="2.2" height="1.1" fill="#333"/>
<g filter="url(#fb)">
<ellipse cx="56.5" cy="302.3" rx="6.5" ry="9" fill="#d9cdf2" opacity="0.45"/>
<rect x="45.50" y="289.45" width="12.00" height="25.20" rx="6.00" fill="#b9b2ec" opacity="0.4"/>
<rect x="47.00" y="291.45" width="9.00" height="21.20" rx="4.50" fill="#35288e" opacity="1"/>
<rect x="47.70" y="292.25" width="7.60" height="19.60" rx="3.80" fill="#3d4fbf" opacity="1"/>
<rect x="48.30" y="293.25" width="6.40" height="17.80" rx="3.20" fill="#2e9fc4" opacity="1"/>
<rect x="48.80" y="294.95" width="5.40" height="15.30" rx="2.70" fill="#5cb85a" opacity="1"/>
<rect x="49.30" y="298.45" width="4.40" height="11.00" rx="2.20" fill="#a8c83a" opacity="1"/>
<rect x="49.80" y="301.45" width="3.40" height="7.00" rx="1.70" fill="#dcc22c" opacity="1"/>
<rect x="50.50" y="303.45" width="2.00" height="3.70" rx="1.00" fill="#ee9a1c" opacity="1"/>
</g>
<path d="M65.5 288.4 L82.7 288.4 L82.7 315.2 L61.3 315.2 Z" fill="none" stroke="#6a6a6a" stroke-width="0.65"/>
<text x="72.20" y="321.75" font-size="6.9" text-anchor="middle" fill="#404040">0.78</text>
<rect x="93.8" y="284.85" width="41.8" height="40.8" fill="#fff" stroke="#cfcfcf" stroke-width="0.8"/>
<line x1="96.8" y1="325.6" x2="96.8" y2="326.8" stroke="#aaa" stroke-width="0.5"/>
<line x1="103.0" y1="325.6" x2="103.0" y2="326.8" stroke="#aaa" stroke-width="0.5"/>
<line x1="109.2" y1="325.6" x2="109.2" y2="326.8" stroke="#aaa" stroke-width="0.5"/>
<line x1="115.4" y1="325.6" x2="115.4" y2="326.8" stroke="#aaa" stroke-width="0.5"/>
<line x1="121.6" y1="325.6" x2="121.6" y2="326.8" stroke="#aaa" stroke-width="0.5"/>
<line x1="127.8" y1="325.6" x2="127.8" y2="326.8" stroke="#aaa" stroke-width="0.5"/>
<line x1="134.0" y1="325.6" x2="134.0" y2="326.8" stroke="#aaa" stroke-width="0.5"/>
<line x1="92.7" y1="292.8" x2="93.8" y2="292.8" stroke="#aaa" stroke-width="0.5"/>
<line x1="92.7" y1="302.3" x2="93.8" y2="302.3" stroke="#aaa" stroke-width="0.5"/>
<line x1="92.7" y1="311.8" x2="93.8" y2="311.8" stroke="#aaa" stroke-width="0.5"/>
<line x1="92.7" y1="321.3" x2="93.8" y2="321.3" stroke="#aaa" stroke-width="0.5"/>
<rect x="101.3" y="325.4" width="2.2" height="1.1" fill="#333"/>
<g clip-path="url(#cpC1)">
<g filter="url(#fb2)">
<ellipse cx="110.5" cy="302.8" rx="16" ry="13" fill="#b9b2ec" opacity="0.4" transform="rotate(0 110.5 302.8)"/>
<ellipse cx="110.5" cy="303.3" rx="14" ry="11.5" fill="#4a40b0" opacity="0.6" transform="rotate(0 110.5 303.3)"/>
<ellipse cx="110.5" cy="304.8" rx="12.5" ry="10" fill="#3f5cc4" opacity="0.72" transform="rotate(0 110.5 304.8)"/>
<ellipse cx="110" cy="306.8" rx="10" ry="8" fill="#2fa2c0" opacity="0.9" transform="rotate(0 110 306.8)"/>
<ellipse cx="110" cy="308.8" rx="8" ry="6" fill="#5ab85a" opacity="1" transform="rotate(0 110 308.8)"/>
<ellipse cx="109.5" cy="310.3" rx="5.5" ry="4" fill="#a9c63a" opacity="1" transform="rotate(0 109.5 310.3)"/>
<ellipse cx="108.5" cy="311.3" rx="3.5" ry="2.5" fill="#dcc22c" opacity="1" transform="rotate(0 108.5 311.3)"/>
</g>
</g>
<path d="M113.3 288.4 L133.3 288.4 L133.3 315.2 L109.6 315.2 Z" fill="none" stroke="#6a6a6a" stroke-width="0.65"/>
<text x="121.80" y="321.75" font-size="6.9" text-anchor="middle" fill="#404040">53.7</text>
<text x="15.60" y="353.90" font-size="6.2" text-anchor="middle" fill="#3a3a3a">CAR2</text>
<text x="15.60" y="361.50" font-size="6.2" text-anchor="middle" fill="#3a3a3a" textLength="16.40" lengthAdjust="spacingAndGlyphs">NK-92</text>
<rect x="42.4" y="336.00" width="42.0" height="40.8" fill="#fff" stroke="#cfcfcf" stroke-width="0.8"/>
<line x1="45.4" y1="376.8" x2="45.4" y2="378.0" stroke="#aaa" stroke-width="0.5"/>
<line x1="51.6" y1="376.8" x2="51.6" y2="378.0" stroke="#aaa" stroke-width="0.5"/>
<line x1="57.8" y1="376.8" x2="57.8" y2="378.0" stroke="#aaa" stroke-width="0.5"/>
<line x1="64.0" y1="376.8" x2="64.0" y2="378.0" stroke="#aaa" stroke-width="0.5"/>
<line x1="70.2" y1="376.8" x2="70.2" y2="378.0" stroke="#aaa" stroke-width="0.5"/>
<line x1="76.4" y1="376.8" x2="76.4" y2="378.0" stroke="#aaa" stroke-width="0.5"/>
<line x1="82.6" y1="376.8" x2="82.6" y2="378.0" stroke="#aaa" stroke-width="0.5"/>
<line x1="41.3" y1="344.0" x2="42.4" y2="344.0" stroke="#aaa" stroke-width="0.5"/>
<line x1="41.3" y1="353.5" x2="42.4" y2="353.5" stroke="#aaa" stroke-width="0.5"/>
<line x1="41.3" y1="363.0" x2="42.4" y2="363.0" stroke="#aaa" stroke-width="0.5"/>
<line x1="41.3" y1="372.5" x2="42.4" y2="372.5" stroke="#aaa" stroke-width="0.5"/>
<rect x="49.9" y="376.6" width="2.2" height="1.1" fill="#333"/>
<g filter="url(#fb)">
<ellipse cx="56.5" cy="353.5" rx="6.5" ry="9" fill="#d9cdf2" opacity="0.45"/>
<rect x="45.50" y="340.60" width="12.00" height="25.20" rx="6.00" fill="#b9b2ec" opacity="0.4"/>
<rect x="47.00" y="342.60" width="9.00" height="21.20" rx="4.50" fill="#35288e" opacity="1"/>
<rect x="47.70" y="343.40" width="7.60" height="19.60" rx="3.80" fill="#3d4fbf" opacity="1"/>
<rect x="48.30" y="344.40" width="6.40" height="17.80" rx="3.20" fill="#2e9fc4" opacity="1"/>
<rect x="48.80" y="346.10" width="5.40" height="15.30" rx="2.70" fill="#5cb85a" opacity="1"/>
<rect x="49.30" y="349.60" width="4.40" height="11.00" rx="2.20" fill="#a8c83a" opacity="1"/>
<rect x="49.80" y="352.60" width="3.40" height="7.00" rx="1.70" fill="#dcc22c" opacity="1"/>
<rect x="50.50" y="354.60" width="2.00" height="3.70" rx="1.00" fill="#ee9a1c" opacity="1"/>
</g>
<path d="M65.5 339.6 L82.7 339.6 L82.7 366.4 L61.3 366.4 Z" fill="none" stroke="#6a6a6a" stroke-width="0.65"/>
<text x="72.20" y="372.90" font-size="6.9" text-anchor="middle" fill="#404040">0.96</text>
<rect x="93.8" y="336.00" width="41.8" height="40.8" fill="#fff" stroke="#cfcfcf" stroke-width="0.8"/>
<line x1="96.8" y1="376.8" x2="96.8" y2="378.0" stroke="#aaa" stroke-width="0.5"/>
<line x1="103.0" y1="376.8" x2="103.0" y2="378.0" stroke="#aaa" stroke-width="0.5"/>
<line x1="109.2" y1="376.8" x2="109.2" y2="378.0" stroke="#aaa" stroke-width="0.5"/>
<line x1="115.4" y1="376.8" x2="115.4" y2="378.0" stroke="#aaa" stroke-width="0.5"/>
<line x1="121.6" y1="376.8" x2="121.6" y2="378.0" stroke="#aaa" stroke-width="0.5"/>
<line x1="127.8" y1="376.8" x2="127.8" y2="378.0" stroke="#aaa" stroke-width="0.5"/>
<line x1="134.0" y1="376.8" x2="134.0" y2="378.0" stroke="#aaa" stroke-width="0.5"/>
<line x1="92.7" y1="344.0" x2="93.8" y2="344.0" stroke="#aaa" stroke-width="0.5"/>
<line x1="92.7" y1="353.5" x2="93.8" y2="353.5" stroke="#aaa" stroke-width="0.5"/>
<line x1="92.7" y1="363.0" x2="93.8" y2="363.0" stroke="#aaa" stroke-width="0.5"/>
<line x1="92.7" y1="372.5" x2="93.8" y2="372.5" stroke="#aaa" stroke-width="0.5"/>
<rect x="101.3" y="376.6" width="2.2" height="1.1" fill="#333"/>
<g clip-path="url(#cpC2)">
<g filter="url(#fb2)">
<ellipse cx="108.5" cy="355.0" rx="14.5" ry="12" fill="#b9b2ec" opacity="0.4" transform="rotate(-15 108.5 355.0)"/>
<ellipse cx="108" cy="355.5" rx="12.5" ry="11" fill="#4a40b0" opacity="0.6" transform="rotate(-15 108 355.5)"/>
<ellipse cx="108" cy="357.0" rx="11" ry="9.5" fill="#3f5cc4" opacity="0.72" transform="rotate(-15 108 357.0)"/>
<ellipse cx="104.5" cy="357.5" rx="6" ry="8.5" fill="#2fa2c0" opacity="0.9" transform="rotate(0 104.5 357.5)"/>
<ellipse cx="114.5" cy="358.5" rx="6" ry="6.5" fill="#2fa2c0" opacity="0.9" transform="rotate(0 114.5 358.5)"/>
<ellipse cx="104.5" cy="359.0" rx="4.5" ry="6.5" fill="#5ab85a" opacity="1" transform="rotate(0 104.5 359.0)"/>
<ellipse cx="114.5" cy="359.5" rx="4.5" ry="5" fill="#5ab85a" opacity="1" transform="rotate(0 114.5 359.5)"/>
<ellipse cx="104.3" cy="360.5" rx="3" ry="4.5" fill="#dcc22c" opacity="1" transform="rotate(0 104.3 360.5)"/>
<ellipse cx="114.5" cy="360.5" rx="2.5" ry="3" fill="#a9c63a" opacity="1" transform="rotate(0 114.5 360.5)"/>
<ellipse cx="104" cy="361.5" rx="1.6" ry="2.5" fill="#ee9a1c" opacity="1" transform="rotate(0 104 361.5)"/>
</g>
</g>
<path d="M113.3 339.6 L133.3 339.6 L133.3 366.4 L109.6 366.4 Z" fill="none" stroke="#6a6a6a" stroke-width="0.65"/>
<text x="121.80" y="372.90" font-size="6.9" text-anchor="middle" fill="#404040">37.0</text>
<text x="15.60" y="405.05" font-size="6.2" text-anchor="middle" fill="#3a3a3a">CAR3</text>
<text x="15.60" y="412.65" font-size="6.2" text-anchor="middle" fill="#3a3a3a" textLength="16.40" lengthAdjust="spacingAndGlyphs">NK-92</text>
<rect x="42.4" y="387.15" width="42.0" height="40.8" fill="#fff" stroke="#cfcfcf" stroke-width="0.8"/>
<line x1="45.4" y1="427.9" x2="45.4" y2="429.1" stroke="#aaa" stroke-width="0.5"/>
<line x1="51.6" y1="427.9" x2="51.6" y2="429.1" stroke="#aaa" stroke-width="0.5"/>
<line x1="57.8" y1="427.9" x2="57.8" y2="429.1" stroke="#aaa" stroke-width="0.5"/>
<line x1="64.0" y1="427.9" x2="64.0" y2="429.1" stroke="#aaa" stroke-width="0.5"/>
<line x1="70.2" y1="427.9" x2="70.2" y2="429.1" stroke="#aaa" stroke-width="0.5"/>
<line x1="76.4" y1="427.9" x2="76.4" y2="429.1" stroke="#aaa" stroke-width="0.5"/>
<line x1="82.6" y1="427.9" x2="82.6" y2="429.1" stroke="#aaa" stroke-width="0.5"/>
<line x1="41.3" y1="395.1" x2="42.4" y2="395.1" stroke="#aaa" stroke-width="0.5"/>
<line x1="41.3" y1="404.6" x2="42.4" y2="404.6" stroke="#aaa" stroke-width="0.5"/>
<line x1="41.3" y1="414.1" x2="42.4" y2="414.1" stroke="#aaa" stroke-width="0.5"/>
<line x1="41.3" y1="423.6" x2="42.4" y2="423.6" stroke="#aaa" stroke-width="0.5"/>
<rect x="49.9" y="427.8" width="2.2" height="1.1" fill="#333"/>
<g filter="url(#fb)">
<ellipse cx="56.5" cy="404.6" rx="6.5" ry="9" fill="#d9cdf2" opacity="0.45"/>
<rect x="45.50" y="391.75" width="12.00" height="25.20" rx="6.00" fill="#b9b2ec" opacity="0.4"/>
<rect x="47.00" y="393.75" width="9.00" height="21.20" rx="4.50" fill="#35288e" opacity="1"/>
<rect x="47.70" y="394.55" width="7.60" height="19.60" rx="3.80" fill="#3d4fbf" opacity="1"/>
<rect x="48.30" y="395.55" width="6.40" height="17.80" rx="3.20" fill="#2e9fc4" opacity="1"/>
<rect x="48.80" y="397.25" width="5.40" height="15.30" rx="2.70" fill="#5cb85a" opacity="1"/>
<rect x="49.30" y="400.75" width="4.40" height="11.00" rx="2.20" fill="#a8c83a" opacity="1"/>
<rect x="49.80" y="403.75" width="3.40" height="7.00" rx="1.70" fill="#dcc22c" opacity="1"/>
<rect x="50.50" y="405.75" width="2.00" height="3.70" rx="1.00" fill="#ee9a1c" opacity="1"/>
</g>
<path d="M65.5 390.8 L82.7 390.8 L82.7 417.5 L61.3 417.5 Z" fill="none" stroke="#6a6a6a" stroke-width="0.65"/>
<text x="72.20" y="424.05" font-size="6.9" text-anchor="middle" fill="#404040">0.45</text>
<rect x="93.8" y="387.15" width="41.8" height="40.8" fill="#fff" stroke="#cfcfcf" stroke-width="0.8"/>
<line x1="96.8" y1="427.9" x2="96.8" y2="429.1" stroke="#aaa" stroke-width="0.5"/>
<line x1="103.0" y1="427.9" x2="103.0" y2="429.1" stroke="#aaa" stroke-width="0.5"/>
<line x1="109.2" y1="427.9" x2="109.2" y2="429.1" stroke="#aaa" stroke-width="0.5"/>
<line x1="115.4" y1="427.9" x2="115.4" y2="429.1" stroke="#aaa" stroke-width="0.5"/>
<line x1="121.6" y1="427.9" x2="121.6" y2="429.1" stroke="#aaa" stroke-width="0.5"/>
<line x1="127.8" y1="427.9" x2="127.8" y2="429.1" stroke="#aaa" stroke-width="0.5"/>
<line x1="134.0" y1="427.9" x2="134.0" y2="429.1" stroke="#aaa" stroke-width="0.5"/>
<line x1="92.7" y1="395.1" x2="93.8" y2="395.1" stroke="#aaa" stroke-width="0.5"/>
<line x1="92.7" y1="404.6" x2="93.8" y2="404.6" stroke="#aaa" stroke-width="0.5"/>
<line x1="92.7" y1="414.1" x2="93.8" y2="414.1" stroke="#aaa" stroke-width="0.5"/>
<line x1="92.7" y1="423.6" x2="93.8" y2="423.6" stroke="#aaa" stroke-width="0.5"/>
<rect x="101.3" y="427.8" width="2.2" height="1.1" fill="#333"/>
<g clip-path="url(#cpC3)">
<g filter="url(#fb2)">
<ellipse cx="108" cy="405.1" rx="14" ry="12" fill="#b9b2ec" opacity="0.4" transform="rotate(-25 108 405.1)"/>
<ellipse cx="107.5" cy="406.1" rx="12.5" ry="10.5" fill="#4a40b0" opacity="0.6" transform="rotate(-25 107.5 406.1)"/>
<ellipse cx="106.5" cy="407.6" rx="11" ry="8.5" fill="#3f5cc4" opacity="0.72" transform="rotate(-20 106.5 407.6)"/>
<ellipse cx="105.5" cy="409.6" rx="8.5" ry="6.5" fill="#2fa2c0" opacity="0.9" transform="rotate(-15 105.5 409.6)"/>
<ellipse cx="105" cy="411.1" rx="6.5" ry="4.5" fill="#5ab85a" opacity="1" transform="rotate(0 105 411.1)"/>
<ellipse cx="104.5" cy="412.1" rx="4" ry="3" fill="#dcc22c" opacity="1" transform="rotate(0 104.5 412.1)"/>
<ellipse cx="104" cy="412.6" rx="2.2" ry="1.8" fill="#ee9a1c" opacity="1" transform="rotate(0 104 412.6)"/>
</g>
</g>
<path d="M113.3 390.8 L133.3 390.8 L133.3 417.5 L109.6 417.5 Z" fill="none" stroke="#6a6a6a" stroke-width="0.65"/>
<text x="121.80" y="424.05" font-size="6.9" text-anchor="middle" fill="#404040">33.7</text>
<text x="15.60" y="456.20" font-size="6.2" text-anchor="middle" fill="#3a3a3a">CAR4</text>
<text x="15.60" y="463.80" font-size="6.2" text-anchor="middle" fill="#3a3a3a" textLength="16.40" lengthAdjust="spacingAndGlyphs">NK-92</text>
<rect x="42.4" y="438.30" width="42.0" height="40.8" fill="#fff" stroke="#cfcfcf" stroke-width="0.8"/>
<line x1="45.4" y1="479.1" x2="45.4" y2="480.3" stroke="#aaa" stroke-width="0.5"/>
<line x1="51.6" y1="479.1" x2="51.6" y2="480.3" stroke="#aaa" stroke-width="0.5"/>
<line x1="57.8" y1="479.1" x2="57.8" y2="480.3" stroke="#aaa" stroke-width="0.5"/>
<line x1="64.0" y1="479.1" x2="64.0" y2="480.3" stroke="#aaa" stroke-width="0.5"/>
<line x1="70.2" y1="479.1" x2="70.2" y2="480.3" stroke="#aaa" stroke-width="0.5"/>
<line x1="76.4" y1="479.1" x2="76.4" y2="480.3" stroke="#aaa" stroke-width="0.5"/>
<line x1="82.6" y1="479.1" x2="82.6" y2="480.3" stroke="#aaa" stroke-width="0.5"/>
<line x1="41.3" y1="446.3" x2="42.4" y2="446.3" stroke="#aaa" stroke-width="0.5"/>
<line x1="41.3" y1="455.8" x2="42.4" y2="455.8" stroke="#aaa" stroke-width="0.5"/>
<line x1="41.3" y1="465.3" x2="42.4" y2="465.3" stroke="#aaa" stroke-width="0.5"/>
<line x1="41.3" y1="474.8" x2="42.4" y2="474.8" stroke="#aaa" stroke-width="0.5"/>
<rect x="49.9" y="478.9" width="2.2" height="1.1" fill="#333"/>
<g filter="url(#fb)">
<ellipse cx="56.5" cy="455.8" rx="6.5" ry="9" fill="#d9cdf2" opacity="0.45"/>
<rect x="45.50" y="442.90" width="12.00" height="25.20" rx="6.00" fill="#b9b2ec" opacity="0.4"/>
<rect x="47.00" y="444.90" width="9.00" height="21.20" rx="4.50" fill="#35288e" opacity="1"/>
<rect x="47.70" y="445.70" width="7.60" height="19.60" rx="3.80" fill="#3d4fbf" opacity="1"/>
<rect x="48.30" y="446.70" width="6.40" height="17.80" rx="3.20" fill="#2e9fc4" opacity="1"/>
<rect x="48.80" y="448.40" width="5.40" height="15.30" rx="2.70" fill="#5cb85a" opacity="1"/>
<rect x="49.30" y="451.90" width="4.40" height="11.00" rx="2.20" fill="#a8c83a" opacity="1"/>
<rect x="49.80" y="454.90" width="3.40" height="7.00" rx="1.70" fill="#dcc22c" opacity="1"/>
<rect x="50.50" y="456.90" width="2.00" height="3.70" rx="1.00" fill="#ee9a1c" opacity="1"/>
</g>
<path d="M65.5 441.9 L82.7 441.9 L82.7 468.7 L61.3 468.7 Z" fill="none" stroke="#6a6a6a" stroke-width="0.65"/>
<text x="72.20" y="475.20" font-size="6.9" text-anchor="middle" fill="#404040">1.43</text>
<rect x="93.8" y="438.30" width="41.8" height="40.8" fill="#fff" stroke="#cfcfcf" stroke-width="0.8"/>
<line x1="96.8" y1="479.1" x2="96.8" y2="480.3" stroke="#aaa" stroke-width="0.5"/>
<line x1="103.0" y1="479.1" x2="103.0" y2="480.3" stroke="#aaa" stroke-width="0.5"/>
<line x1="109.2" y1="479.1" x2="109.2" y2="480.3" stroke="#aaa" stroke-width="0.5"/>
<line x1="115.4" y1="479.1" x2="115.4" y2="480.3" stroke="#aaa" stroke-width="0.5"/>
<line x1="121.6" y1="479.1" x2="121.6" y2="480.3" stroke="#aaa" stroke-width="0.5"/>
<line x1="127.8" y1="479.1" x2="127.8" y2="480.3" stroke="#aaa" stroke-width="0.5"/>
<line x1="134.0" y1="479.1" x2="134.0" y2="480.3" stroke="#aaa" stroke-width="0.5"/>
<line x1="92.7" y1="446.3" x2="93.8" y2="446.3" stroke="#aaa" stroke-width="0.5"/>
<line x1="92.7" y1="455.8" x2="93.8" y2="455.8" stroke="#aaa" stroke-width="0.5"/>
<line x1="92.7" y1="465.3" x2="93.8" y2="465.3" stroke="#aaa" stroke-width="0.5"/>
<line x1="92.7" y1="474.8" x2="93.8" y2="474.8" stroke="#aaa" stroke-width="0.5"/>
<rect x="101.3" y="478.9" width="2.2" height="1.1" fill="#333"/>
<g clip-path="url(#cpC4)">
<g filter="url(#fb2)">
<ellipse cx="113" cy="456.3" rx="17.5" ry="12" fill="#b9b2ec" opacity="0.45" transform="rotate(-10 113 456.3)"/>
<ellipse cx="104" cy="460.3" rx="8" ry="6" fill="#7c74cc" opacity="0.45" transform="rotate(0 104 460.3)"/>
<ellipse cx="119" cy="456.8" rx="11" ry="11" fill="#4a40b0" opacity="0.6" transform="rotate(0 119 456.8)"/>
<ellipse cx="118.5" cy="457.8" rx="9.5" ry="9.5" fill="#3f5cc4" opacity="0.72" transform="rotate(0 118.5 457.8)"/>
<ellipse cx="118" cy="459.3" rx="8" ry="7.5" fill="#2fa2c0" opacity="0.9" transform="rotate(0 118 459.3)"/>
<ellipse cx="117.5" cy="460.3" rx="6" ry="6" fill="#5ab85a" opacity="1" transform="rotate(0 117.5 460.3)"/>
<ellipse cx="117" cy="460.8" rx="4.5" ry="4.5" fill="#a9c63a" opacity="1" transform="rotate(0 117 460.8)"/>
<ellipse cx="117" cy="461.3" rx="3" ry="3.2" fill="#dcc22c" opacity="1" transform="rotate(0 117 461.3)"/>
<ellipse cx="116.8" cy="461.3" rx="1.8" ry="2" fill="#ee9a1c" opacity="1" transform="rotate(0 116.8 461.3)"/>
</g>
</g>
<path d="M113.3 441.9 L133.3 441.9 L133.3 468.7 L109.6 468.7 Z" fill="none" stroke="#6a6a6a" stroke-width="0.65"/>
<text x="121.80" y="475.20" font-size="6.9" text-anchor="middle" fill="#404040">78.7</text>
<line x1="227.2" y1="268.7" x2="238.7" y2="268.7" stroke="#1f3a5c" stroke-width="0.8"/>
<circle cx="232.95" cy="268.70" r="1.40" fill="#1f3a5c"/>
<text x="240.80" y="270.60" font-size="5.4" fill="#333">CAR1</text>
<line x1="270.7" y1="268.7" x2="282.2" y2="268.7" stroke="#c8102e" stroke-width="0.8"/>
<circle cx="276.45" cy="268.70" r="1.40" fill="#c8102e"/>
<text x="284.30" y="270.60" font-size="5.4" fill="#333">CAR2</text>
<line x1="314.2" y1="268.7" x2="325.7" y2="268.7" stroke="#49a9d8" stroke-width="0.8"/>
<circle cx="319.95" cy="268.70" r="1.40" fill="#49a9d8"/>
<text x="327.80" y="270.60" font-size="5.4" fill="#333">CAR3</text>
<line x1="357.2" y1="268.7" x2="368.7" y2="268.7" stroke="#d4217d" stroke-width="0.8"/>
<circle cx="362.95" cy="268.70" r="1.40" fill="#d4217d"/>
<text x="370.80" y="270.60" font-size="5.4" fill="#333">CAR4</text>
<line x1="400.5" y1="268.7" x2="412.0" y2="268.7" stroke="#d9892b" stroke-width="0.8"/>
<path d="M404.29 270.10 L408.21 270.10 L406.25 266.74 Z" fill="#d9892b"/>
<text x="414.10" y="270.60" font-size="5.4" fill="#333">CD19-CAR</text>
<line x1="456.7" y1="268.7" x2="468.2" y2="268.7" stroke="#474759" stroke-width="0.8"/>
<path d="M460.49 267.30 L464.41 267.30 L462.45 270.66 Z" fill="#474759"/>
<text x="470.30" y="270.60" font-size="5.4" fill="#333">wt</text>
<text x="228.20" y="292.30" font-size="7.6" text-anchor="middle" textLength="46.70" lengthAdjust="spacingAndGlyphs">relative Killing</text>
<text x="348.10" y="292.70" font-size="7.6" text-anchor="middle" textLength="88.40" lengthAdjust="spacingAndGlyphs">abs. Killing of Target Cells</text>
<text x="466.30" y="293.40" font-size="7.6" text-anchor="middle" textLength="93.40" lengthAdjust="spacingAndGlyphs">abs. Killing of Control Cells</text>
<text transform="translate(156.6,322.3) rotate(-90)" font-size="7.6" text-anchor="middle" fill="#222">4h</text>
<text transform="translate(156.6,386.5) rotate(-90)" font-size="7.6" text-anchor="middle" fill="#222">16h</text>
<line x1="185.3" y1="297.7" x2="185.3" y2="347.5" stroke="#000" stroke-width="1.1"/>
<line x1="184.75" y1="347.5" x2="271.2" y2="347.5" stroke="#000" stroke-width="1.1"/>
<line x1="183.4" y1="347.5" x2="185.3" y2="347.5" stroke="#000" stroke-width="0.75"/>
<text x="182.00" y="349.60" font-size="6.0" text-anchor="end">0</text>
<line x1="183.4" y1="338.1" x2="185.3" y2="338.1" stroke="#000" stroke-width="0.75"/>
<text x="182.00" y="340.17" font-size="6.0" text-anchor="end">20</text>
<line x1="183.4" y1="328.6" x2="185.3" y2="328.6" stroke="#000" stroke-width="0.75"/>
<text x="182.00" y="330.74" font-size="6.0" text-anchor="end">40</text>
<line x1="183.4" y1="319.2" x2="185.3" y2="319.2" stroke="#000" stroke-width="0.75"/>
<text x="182.00" y="321.31" font-size="6.0" text-anchor="end">60</text>
<line x1="183.4" y1="309.8" x2="185.3" y2="309.8" stroke="#000" stroke-width="0.75"/>
<text x="182.00" y="311.88" font-size="6.0" text-anchor="end">80</text>
<line x1="183.4" y1="300.4" x2="185.3" y2="300.4" stroke="#000" stroke-width="0.75"/>
<text x="182.00" y="302.45" font-size="6.0" text-anchor="end">100</text>
<line x1="191.0" y1="347.5" x2="191.0" y2="349.4" stroke="#000" stroke-width="0.75"/>
<line x1="203.9" y1="347.5" x2="203.9" y2="349.4" stroke="#000" stroke-width="0.75"/>
<line x1="216.9" y1="347.5" x2="216.9" y2="349.4" stroke="#000" stroke-width="0.75"/>
<line x1="229.8" y1="347.5" x2="229.8" y2="349.4" stroke="#000" stroke-width="0.75"/>
<line x1="242.8" y1="347.5" x2="242.8" y2="349.4" stroke="#000" stroke-width="0.75"/>
<line x1="255.8" y1="347.5" x2="255.8" y2="349.4" stroke="#000" stroke-width="0.75"/>
<line x1="268.7" y1="347.5" x2="268.7" y2="349.4" stroke="#000" stroke-width="0.75"/>
<text transform="translate(167.3,323.3) rotate(-90)" font-size="6.8" font-weight="bold" text-anchor="middle" fill="#222" textLength="35.5" lengthAdjust="spacingAndGlyphs">Rel. killing (%)</text>
<polygon points="191.0,345.6 203.9,345.6 216.9,344.2 229.8,344.2 242.8,344.9 255.8,345.1 268.7,345.6 268.7,347.5 255.8,347.5 242.8,347.5 229.8,347.5 216.9,347.5 203.9,347.5 191.0,347.5" fill="#d9892b" opacity="0.09"/>
<polygon points="191.0,345.1 203.9,341.6 216.9,335.2 229.8,328.5 242.8,324.6 255.8,316.2 268.7,315.7 268.7,319.4 255.8,320.0 242.8,328.4 229.8,332.2 216.9,339.0 203.9,345.4 191.0,347.5" fill="#49a9d8" opacity="0.09"/>
<polygon points="191.0,340.7 203.9,339.8 216.9,330.3 229.8,323.0 242.8,312.9 255.8,304.6 268.7,302.7 268.7,306.5 255.8,308.4 242.8,316.7 229.8,326.8 216.9,334.1 203.9,343.5 191.0,344.4" fill="#d4217d" opacity="0.09"/>
<polygon points="191.0,344.3 203.9,341.0 216.9,336.5 229.8,328.8 242.8,315.4 255.8,307.0 268.7,303.2 268.7,307.0 255.8,310.7 242.8,319.2 229.8,332.6 216.9,340.2 203.9,344.8 191.0,347.5" fill="#c8102e" opacity="0.09"/>
<polygon points="191.0,340.3 203.9,336.3 216.9,327.5 229.8,320.6 242.8,312.0 255.8,307.4 268.7,301.4 268.7,305.2 255.8,311.2 242.8,315.8 229.8,324.4 216.9,331.3 203.9,340.1 191.0,344.1" fill="#3fa0a8" opacity="0.14"/>
<polyline points="191.0,347.5 203.9,347.5 216.9,346.1 229.8,346.1 242.8,346.8 255.8,347.0 268.7,347.5" fill="none" stroke="#d9892b" stroke-width="0.85"/>
<path d="M189.53 348.55 L192.47 348.55 L191.00 346.03 Z" fill="#d9892b"/>
<path d="M202.48 348.55 L205.42 348.55 L203.95 346.03 Z" fill="#d9892b"/>
<path d="M215.43 347.14 L218.37 347.14 L216.90 344.62 Z" fill="#d9892b"/>
<path d="M228.38 347.14 L231.32 347.14 L229.85 344.62 Z" fill="#d9892b"/>
<path d="M241.33 347.84 L244.27 347.84 L242.80 345.32 Z" fill="#d9892b"/>
<path d="M254.28 348.08 L257.22 348.08 L255.75 345.56 Z" fill="#d9892b"/>
<path d="M267.23 348.55 L270.17 348.55 L268.70 346.03 Z" fill="#d9892b"/>
<polyline points="191.0,346.8 203.9,347.0 216.9,345.3 229.8,346.1 242.8,346.6 255.8,347.0 268.7,347.5" fill="none" stroke="#474759" stroke-width="0.85"/>
<path d="M189.53 345.74 L192.47 345.74 L191.00 348.26 Z" fill="#474759"/>
<path d="M202.48 345.98 L205.42 345.98 L203.95 348.50 Z" fill="#474759"/>
<path d="M215.43 344.28 L218.37 344.28 L216.90 346.80 Z" fill="#474759"/>
<path d="M228.38 345.04 L231.32 345.04 L229.85 347.56 Z" fill="#474759"/>
<path d="M241.33 345.51 L244.27 345.51 L242.80 348.03 Z" fill="#474759"/>
<path d="M254.28 345.98 L257.22 345.98 L255.75 348.50 Z" fill="#474759"/>
<path d="M267.23 346.45 L270.17 346.45 L268.70 348.97 Z" fill="#474759"/>
<polyline points="191.0,347.0 203.9,343.5 216.9,337.1 229.8,330.3 242.8,326.5 255.8,318.1 268.7,317.6" fill="none" stroke="#49a9d8" stroke-width="0.85"/>
<circle cx="191.00" cy="347.03" r="1.05" fill="#49a9d8"/>
<circle cx="203.95" cy="343.49" r="1.05" fill="#49a9d8"/>
<circle cx="216.90" cy="337.13" r="1.05" fill="#49a9d8"/>
<circle cx="229.85" cy="330.34" r="1.05" fill="#49a9d8"/>
<circle cx="242.80" cy="326.47" r="1.05" fill="#49a9d8"/>
<circle cx="255.75" cy="318.08" r="1.05" fill="#49a9d8"/>
<circle cx="268.70" cy="317.56" r="1.05" fill="#49a9d8"/>
<polyline points="191.0,342.2 203.9,338.2 216.9,329.4 229.8,322.5 242.8,313.9 255.8,309.3 268.7,303.3" fill="none" stroke="#1f3a5c" stroke-width="0.85"/>
<circle cx="191.00" cy="342.22" r="1.05" fill="#1f3a5c"/>
<circle cx="203.95" cy="338.16" r="1.05" fill="#1f3a5c"/>
<circle cx="216.90" cy="329.39" r="1.05" fill="#1f3a5c"/>
<circle cx="229.85" cy="322.51" r="1.05" fill="#1f3a5c"/>
<circle cx="242.80" cy="313.88" r="1.05" fill="#1f3a5c"/>
<circle cx="255.75" cy="309.31" r="1.05" fill="#1f3a5c"/>
<circle cx="268.70" cy="303.27" r="1.05" fill="#1f3a5c"/>
<polyline points="191.0,346.2 203.9,342.9 216.9,338.4 229.8,330.7 242.8,317.3 255.8,308.8 268.7,305.1" fill="none" stroke="#c8102e" stroke-width="0.85"/>
<circle cx="191.00" cy="346.23" r="1.05" fill="#c8102e"/>
<circle cx="203.95" cy="342.93" r="1.05" fill="#c8102e"/>
<circle cx="216.90" cy="338.35" r="1.05" fill="#c8102e"/>
<circle cx="229.85" cy="330.71" r="1.05" fill="#c8102e"/>
<circle cx="242.80" cy="317.32" r="1.05" fill="#c8102e"/>
<circle cx="255.75" cy="308.84" r="1.05" fill="#c8102e"/>
<circle cx="268.70" cy="305.06" r="1.05" fill="#c8102e"/>
<polyline points="191.0,342.5 203.9,341.7 216.9,332.2 229.8,324.9 242.8,314.8 255.8,306.5 268.7,304.6" fill="none" stroke="#d4217d" stroke-width="0.85"/>
<circle cx="191.00" cy="342.55" r="1.05" fill="#d4217d"/>
<circle cx="203.95" cy="341.65" r="1.05" fill="#d4217d"/>
<circle cx="216.90" cy="332.18" r="1.05" fill="#d4217d"/>
<circle cx="229.85" cy="324.87" r="1.05" fill="#d4217d"/>
<circle cx="242.80" cy="314.78" r="1.05" fill="#d4217d"/>
<circle cx="255.75" cy="306.48" r="1.05" fill="#d4217d"/>
<circle cx="268.70" cy="304.59" r="1.05" fill="#d4217d"/>
<line x1="185.3" y1="360.5" x2="185.3" y2="410.3" stroke="#000" stroke-width="1.1"/>
<line x1="184.75" y1="410.3" x2="271.2" y2="410.3" stroke="#000" stroke-width="1.1"/>
<line x1="183.4" y1="410.3" x2="185.3" y2="410.3" stroke="#000" stroke-width="0.75"/>
<text x="182.00" y="412.40" font-size="6.0" text-anchor="end">0</text>
<line x1="183.4" y1="400.9" x2="185.3" y2="400.9" stroke="#000" stroke-width="0.75"/>
<text x="182.00" y="402.97" font-size="6.0" text-anchor="end">20</text>
<line x1="183.4" y1="391.4" x2="185.3" y2="391.4" stroke="#000" stroke-width="0.75"/>
<text x="182.00" y="393.54" font-size="6.0" text-anchor="end">40</text>
<line x1="183.4" y1="382.0" x2="185.3" y2="382.0" stroke="#000" stroke-width="0.75"/>
<text x="182.00" y="384.11" font-size="6.0" text-anchor="end">60</text>
<line x1="183.4" y1="372.6" x2="185.3" y2="372.6" stroke="#000" stroke-width="0.75"/>
<text x="182.00" y="374.68" font-size="6.0" text-anchor="end">80</text>
<line x1="183.4" y1="363.2" x2="185.3" y2="363.2" stroke="#000" stroke-width="0.75"/>
<text x="182.00" y="365.25" font-size="6.0" text-anchor="end">100</text>
<line x1="191.0" y1="410.3" x2="191.0" y2="412.2" stroke="#000" stroke-width="0.75"/>
<line x1="203.9" y1="410.3" x2="203.9" y2="412.2" stroke="#000" stroke-width="0.75"/>
<line x1="216.9" y1="410.3" x2="216.9" y2="412.2" stroke="#000" stroke-width="0.75"/>
<line x1="229.8" y1="410.3" x2="229.8" y2="412.2" stroke="#000" stroke-width="0.75"/>
<line x1="242.8" y1="410.3" x2="242.8" y2="412.2" stroke="#000" stroke-width="0.75"/>
<line x1="255.8" y1="410.3" x2="255.8" y2="412.2" stroke="#000" stroke-width="0.75"/>
<line x1="268.7" y1="410.3" x2="268.7" y2="412.2" stroke="#000" stroke-width="0.75"/>
<text transform="translate(167.3,386.1) rotate(-90)" font-size="6.8" font-weight="bold" text-anchor="middle" fill="#222" textLength="35.5" lengthAdjust="spacingAndGlyphs">Rel. killing (%)</text>
<polygon points="191.0,408.2 203.9,404.9 216.9,399.9 229.8,399.5 242.8,398.0 255.8,396.7 268.7,396.7 268.7,400.5 255.8,400.5 242.8,401.8 229.8,403.2 216.9,403.7 203.9,408.7 191.0,410.3" fill="#d9892b" opacity="0.09"/>
<polygon points="191.0,392.5 203.9,386.7 216.9,385.3 229.8,379.7 242.8,374.2 255.8,370.0 268.7,365.6 268.7,369.4 255.8,373.8 242.8,378.0 229.8,383.4 216.9,389.1 203.9,390.5 191.0,396.3" fill="#49a9d8" opacity="0.09"/>
<polygon points="191.0,390.3 203.9,381.5 216.9,381.5 229.8,374.9 242.8,366.9 255.8,363.2 268.7,363.2 268.7,366.0 255.8,366.1 242.8,370.7 229.8,378.7 216.9,385.3 203.9,385.3 191.0,394.1" fill="#d4217d" opacity="0.09"/>
<polygon points="191.0,404.7 203.9,394.9 216.9,384.7 229.8,378.2 242.8,370.7 255.8,363.2 268.7,363.2 268.7,366.5 255.8,366.9 242.8,374.5 229.8,382.0 216.9,388.4 203.9,398.7 191.0,408.5" fill="#c8102e" opacity="0.09"/>
<polygon points="191.0,379.0 203.9,379.2 216.9,374.6 229.8,372.2 242.8,370.0 255.8,363.2 268.7,363.2 268.7,366.1 255.8,366.5 242.8,373.8 229.8,376.0 216.9,378.4 203.9,383.0 191.0,382.8" fill="#3fa0a8" opacity="0.14"/>
<polyline points="191.0,410.1 203.9,406.8 216.9,401.8 229.8,401.3 242.8,399.9 255.8,398.6 268.7,398.6" fill="none" stroke="#d9892b" stroke-width="0.85"/>
<path d="M189.53 411.11 L192.47 411.11 L191.00 408.59 Z" fill="#d9892b"/>
<path d="M202.48 407.86 L205.42 407.86 L203.95 405.34 Z" fill="#d9892b"/>
<path d="M215.43 402.86 L218.37 402.86 L216.90 400.34 Z" fill="#d9892b"/>
<path d="M228.38 402.39 L231.32 402.39 L229.85 399.87 Z" fill="#d9892b"/>
<path d="M241.33 400.98 L244.27 400.98 L242.80 398.46 Z" fill="#d9892b"/>
<path d="M254.28 399.66 L257.22 399.66 L255.75 397.14 Z" fill="#d9892b"/>
<path d="M267.23 399.66 L270.17 399.66 L268.70 397.14 Z" fill="#d9892b"/>
<polyline points="191.0,410.1 203.9,401.3 216.9,401.3 229.8,401.1 242.8,396.2 255.8,396.2 268.7,395.7" fill="none" stroke="#474759" stroke-width="0.85"/>
<path d="M189.53 409.01 L192.47 409.01 L191.00 411.53 Z" fill="#474759"/>
<path d="M202.48 400.29 L205.42 400.29 L203.95 402.81 Z" fill="#474759"/>
<path d="M215.43 400.29 L218.37 400.29 L216.90 402.81 Z" fill="#474759"/>
<path d="M228.38 400.06 L231.32 400.06 L229.85 402.58 Z" fill="#474759"/>
<path d="M241.33 395.11 L244.27 395.11 L242.80 397.63 Z" fill="#474759"/>
<path d="M254.28 395.11 L257.22 395.11 L255.75 397.63 Z" fill="#474759"/>
<path d="M267.23 394.63 L270.17 394.63 L268.70 397.15 Z" fill="#474759"/>
<polyline points="191.0,394.4 203.9,388.6 216.9,387.2 229.8,381.5 242.8,376.1 255.8,371.9 268.7,367.5" fill="none" stroke="#49a9d8" stroke-width="0.85"/>
<circle cx="191.00" cy="394.41" r="1.05" fill="#49a9d8"/>
<circle cx="203.95" cy="388.61" r="1.05" fill="#49a9d8"/>
<circle cx="216.90" cy="387.20" r="1.05" fill="#49a9d8"/>
<circle cx="229.85" cy="381.54" r="1.05" fill="#49a9d8"/>
<circle cx="242.80" cy="376.12" r="1.05" fill="#49a9d8"/>
<circle cx="255.75" cy="371.92" r="1.05" fill="#49a9d8"/>
<circle cx="268.70" cy="367.49" r="1.05" fill="#49a9d8"/>
<polyline points="191.0,380.9 203.9,381.1 216.9,376.5 229.8,374.1 242.8,371.9 255.8,364.6 268.7,364.2" fill="none" stroke="#1f3a5c" stroke-width="0.85"/>
<circle cx="191.00" cy="380.88" r="1.05" fill="#1f3a5c"/>
<circle cx="203.95" cy="381.07" r="1.05" fill="#1f3a5c"/>
<circle cx="216.90" cy="376.49" r="1.05" fill="#1f3a5c"/>
<circle cx="229.85" cy="374.09" r="1.05" fill="#1f3a5c"/>
<circle cx="242.80" cy="371.92" r="1.05" fill="#1f3a5c"/>
<circle cx="255.75" cy="364.56" r="1.05" fill="#1f3a5c"/>
<circle cx="268.70" cy="364.19" r="1.05" fill="#1f3a5c"/>
<polyline points="191.0,406.6 203.9,396.8 216.9,386.5 229.8,380.1 242.8,372.6 255.8,365.0 268.7,364.6" fill="none" stroke="#c8102e" stroke-width="0.85"/>
<circle cx="191.00" cy="406.62" r="1.05" fill="#c8102e"/>
<circle cx="203.95" cy="396.82" r="1.05" fill="#c8102e"/>
<circle cx="216.90" cy="386.54" r="1.05" fill="#c8102e"/>
<circle cx="229.85" cy="380.12" r="1.05" fill="#c8102e"/>
<circle cx="242.80" cy="372.58" r="1.05" fill="#c8102e"/>
<circle cx="255.75" cy="365.04" r="1.05" fill="#c8102e"/>
<circle cx="268.70" cy="364.56" r="1.05" fill="#c8102e"/>
<polyline points="191.0,392.2 203.9,383.4 216.9,383.4 229.8,376.8 242.8,368.8 255.8,364.2 268.7,364.1" fill="none" stroke="#d4217d" stroke-width="0.85"/>
<circle cx="191.00" cy="392.19" r="1.05" fill="#d4217d"/>
<circle cx="203.95" cy="383.42" r="1.05" fill="#d4217d"/>
<circle cx="216.90" cy="383.42" r="1.05" fill="#d4217d"/>
<circle cx="229.85" cy="376.82" r="1.05" fill="#d4217d"/>
<circle cx="242.80" cy="368.81" r="1.05" fill="#d4217d"/>
<circle cx="255.75" cy="364.23" r="1.05" fill="#d4217d"/>
<circle cx="268.70" cy="364.09" r="1.05" fill="#d4217d"/>
<text transform="translate(191.3,417.1) rotate(-45)" font-size="6.2" text-anchor="end" fill="#222" textLength="23.0" lengthAdjust="spacingAndGlyphs">1/8 : 1 : 1</text>
<text transform="translate(204.2,417.1) rotate(-45)" font-size="6.2" text-anchor="end" fill="#222" textLength="23.0" lengthAdjust="spacingAndGlyphs">1/4 : 1 : 1</text>
<text transform="translate(217.2,417.1) rotate(-45)" font-size="6.2" text-anchor="end" fill="#222" textLength="23.0" lengthAdjust="spacingAndGlyphs">1/2 : 1 : 1</text>
<text transform="translate(230.2,417.1) rotate(-45)" font-size="6.2" text-anchor="end" fill="#222" textLength="16.3" lengthAdjust="spacingAndGlyphs">1 : 1 : 1</text>
<text transform="translate(243.1,417.1) rotate(-45)" font-size="6.2" text-anchor="end" fill="#222" textLength="16.3" lengthAdjust="spacingAndGlyphs">2 : 1 : 1</text>
<text transform="translate(256.1,417.1) rotate(-45)" font-size="6.2" text-anchor="end" fill="#222" textLength="16.3" lengthAdjust="spacingAndGlyphs">4 : 1 : 1</text>
<text transform="translate(269.0,417.1) rotate(-45)" font-size="6.2" text-anchor="end" fill="#222" textLength="16.3" lengthAdjust="spacingAndGlyphs">8 : 1 : 1</text>
<text x="228.25" y="442.30" font-size="7.4" text-anchor="middle" fill="#111" textLength="35.80" lengthAdjust="spacingAndGlyphs">E : T : C ratio</text>
<line x1="305.0" y1="297.6" x2="305.0" y2="347.4" stroke="#000" stroke-width="1.1"/>
<line x1="304.45" y1="347.4" x2="391.0" y2="347.4" stroke="#000" stroke-width="1.1"/>
<line x1="303.1" y1="347.4" x2="305.0" y2="347.4" stroke="#000" stroke-width="0.75"/>
<text x="301.70" y="349.50" font-size="6.0" text-anchor="end">0</text>
<line x1="303.1" y1="338.0" x2="305.0" y2="338.0" stroke="#000" stroke-width="0.75"/>
<text x="301.70" y="340.07" font-size="6.0" text-anchor="end">20</text>
<line x1="303.1" y1="328.5" x2="305.0" y2="328.5" stroke="#000" stroke-width="0.75"/>
<text x="301.70" y="330.64" font-size="6.0" text-anchor="end">40</text>
<line x1="303.1" y1="319.1" x2="305.0" y2="319.1" stroke="#000" stroke-width="0.75"/>
<text x="301.70" y="321.21" font-size="6.0" text-anchor="end">60</text>
<line x1="303.1" y1="309.7" x2="305.0" y2="309.7" stroke="#000" stroke-width="0.75"/>
<text x="301.70" y="311.78" font-size="6.0" text-anchor="end">80</text>
<line x1="303.1" y1="300.2" x2="305.0" y2="300.2" stroke="#000" stroke-width="0.75"/>
<text x="301.70" y="302.35" font-size="6.0" text-anchor="end">100</text>
<line x1="310.8" y1="347.4" x2="310.8" y2="349.3" stroke="#000" stroke-width="0.75"/>
<line x1="323.8" y1="347.4" x2="323.8" y2="349.3" stroke="#000" stroke-width="0.75"/>
<line x1="336.7" y1="347.4" x2="336.7" y2="349.3" stroke="#000" stroke-width="0.75"/>
<line x1="349.6" y1="347.4" x2="349.6" y2="349.3" stroke="#000" stroke-width="0.75"/>
<line x1="362.6" y1="347.4" x2="362.6" y2="349.3" stroke="#000" stroke-width="0.75"/>
<line x1="375.6" y1="347.4" x2="375.6" y2="349.3" stroke="#000" stroke-width="0.75"/>
<line x1="388.5" y1="347.4" x2="388.5" y2="349.3" stroke="#000" stroke-width="0.75"/>
<text transform="translate(285.8,322.5) rotate(-90)" font-size="6.8" font-weight="bold" text-anchor="middle" fill="#222" textLength="41.8" lengthAdjust="spacingAndGlyphs">Target killing (%)</text>
<polygon points="310.8,345.5 323.8,345.5 336.7,345.5 349.6,336.4 362.6,326.0 375.6,316.1 388.5,316.1 388.5,319.9 375.6,319.9 362.6,329.8 349.6,340.2 336.7,347.4 323.8,347.4 310.8,347.4" fill="#49a9d8" opacity="0.09"/>
<polygon points="310.8,345.5 323.8,345.4 336.7,335.1 349.6,324.3 362.6,310.9 375.6,303.7 388.5,302.3 388.5,306.0 375.6,307.5 362.6,314.6 349.6,328.1 336.7,338.9 323.8,347.4 310.8,347.4" fill="#d4217d" opacity="0.09"/>
<polygon points="310.8,345.5 323.8,345.5 336.7,345.5 349.6,336.4 362.6,315.4 375.6,306.9 388.5,301.8 388.5,305.6 375.6,310.6 362.6,319.2 349.6,340.2 336.7,347.4 323.8,347.4 310.8,347.4" fill="#c8102e" opacity="0.09"/>
<polygon points="310.8,345.5 323.8,344.8 336.7,324.5 349.6,324.3 362.6,311.6 375.6,306.4 388.5,300.7 388.5,304.5 375.6,310.2 362.6,315.3 349.6,328.1 336.7,328.3 323.8,347.4 310.8,347.4" fill="#3fa0a8" opacity="0.14"/>
<polyline points="310.8,347.4 323.8,347.4 336.7,347.4 349.6,347.4 362.6,347.4 375.6,347.4 388.5,347.4" fill="none" stroke="#d9892b" stroke-width="0.85"/>
<path d="M309.33 348.45 L312.27 348.45 L310.80 345.93 Z" fill="#d9892b"/>
<path d="M322.28 348.45 L325.22 348.45 L323.75 345.93 Z" fill="#d9892b"/>
<path d="M335.23 348.45 L338.17 348.45 L336.70 345.93 Z" fill="#d9892b"/>
<path d="M348.18 348.45 L351.12 348.45 L349.65 345.93 Z" fill="#d9892b"/>
<path d="M361.13 348.45 L364.07 348.45 L362.60 345.93 Z" fill="#d9892b"/>
<path d="M374.08 348.45 L377.02 348.45 L375.55 345.93 Z" fill="#d9892b"/>
<path d="M387.03 348.45 L389.97 348.45 L388.50 345.93 Z" fill="#d9892b"/>
<polyline points="310.8,347.4 323.8,347.4 336.7,347.4 349.6,347.4 362.6,347.4 375.6,347.4 388.5,347.4" fill="none" stroke="#474759" stroke-width="0.85"/>
<path d="M309.33 346.35 L312.27 346.35 L310.80 348.87 Z" fill="#474759"/>
<path d="M322.28 346.35 L325.22 346.35 L323.75 348.87 Z" fill="#474759"/>
<path d="M335.23 346.35 L338.17 346.35 L336.70 348.87 Z" fill="#474759"/>
<path d="M348.18 346.35 L351.12 346.35 L349.65 348.87 Z" fill="#474759"/>
<path d="M361.13 346.35 L364.07 346.35 L362.60 348.87 Z" fill="#474759"/>
<path d="M374.08 346.35 L377.02 346.35 L375.55 348.87 Z" fill="#474759"/>
<path d="M387.03 346.35 L389.97 346.35 L388.50 348.87 Z" fill="#474759"/>
<polyline points="310.8,347.4 323.8,347.4 336.7,347.4 349.6,338.3 362.6,327.9 375.6,318.0 388.5,318.0" fill="none" stroke="#49a9d8" stroke-width="0.85"/>
<circle cx="310.80" cy="347.40" r="1.05" fill="#49a9d8"/>
<circle cx="323.75" cy="347.40" r="1.05" fill="#49a9d8"/>
<circle cx="336.70" cy="347.40" r="1.05" fill="#49a9d8"/>
<circle cx="349.65" cy="338.30" r="1.05" fill="#49a9d8"/>
<circle cx="362.60" cy="327.88" r="1.05" fill="#49a9d8"/>
<circle cx="375.55" cy="318.03" r="1.05" fill="#49a9d8"/>
<circle cx="388.50" cy="318.03" r="1.05" fill="#49a9d8"/>
<polyline points="310.8,347.4 323.8,346.7 336.7,326.4 349.6,326.2 362.6,313.5 375.6,308.3 388.5,302.6" fill="none" stroke="#1f3a5c" stroke-width="0.85"/>
<circle cx="310.80" cy="347.40" r="1.05" fill="#1f3a5c"/>
<circle cx="323.75" cy="346.69" r="1.05" fill="#1f3a5c"/>
<circle cx="336.70" cy="326.42" r="1.05" fill="#1f3a5c"/>
<circle cx="349.65" cy="326.18" r="1.05" fill="#1f3a5c"/>
<circle cx="362.60" cy="313.45" r="1.05" fill="#1f3a5c"/>
<circle cx="375.55" cy="308.27" r="1.05" fill="#1f3a5c"/>
<circle cx="388.50" cy="302.61" r="1.05" fill="#1f3a5c"/>
<polyline points="310.8,347.4 323.8,347.4 336.7,347.4 349.6,338.3 362.6,317.3 375.6,308.7 388.5,303.7" fill="none" stroke="#c8102e" stroke-width="0.85"/>
<circle cx="310.80" cy="347.40" r="1.05" fill="#c8102e"/>
<circle cx="323.75" cy="347.40" r="1.05" fill="#c8102e"/>
<circle cx="336.70" cy="347.40" r="1.05" fill="#c8102e"/>
<circle cx="349.65" cy="338.30" r="1.05" fill="#c8102e"/>
<circle cx="362.60" cy="317.32" r="1.05" fill="#c8102e"/>
<circle cx="375.55" cy="308.74" r="1.05" fill="#c8102e"/>
<circle cx="388.50" cy="303.69" r="1.05" fill="#c8102e"/>
<polyline points="310.8,347.4 323.8,347.3 336.7,337.0 349.6,326.2 362.6,312.7 375.6,305.6 388.5,304.2" fill="none" stroke="#d4217d" stroke-width="0.85"/>
<circle cx="310.80" cy="347.40" r="1.05" fill="#d4217d"/>
<circle cx="323.75" cy="347.26" r="1.05" fill="#d4217d"/>
<circle cx="336.70" cy="337.03" r="1.05" fill="#d4217d"/>
<circle cx="349.65" cy="326.18" r="1.05" fill="#d4217d"/>
<circle cx="362.60" cy="312.74" r="1.05" fill="#d4217d"/>
<circle cx="375.55" cy="305.63" r="1.05" fill="#d4217d"/>
<circle cx="388.50" cy="304.16" r="1.05" fill="#d4217d"/>
<line x1="305.0" y1="360.4" x2="305.0" y2="410.2" stroke="#000" stroke-width="1.1"/>
<line x1="304.45" y1="410.2" x2="391.0" y2="410.2" stroke="#000" stroke-width="1.1"/>
<line x1="303.1" y1="410.2" x2="305.0" y2="410.2" stroke="#000" stroke-width="0.75"/>
<text x="301.70" y="412.30" font-size="6.0" text-anchor="end">0</text>
<line x1="303.1" y1="400.8" x2="305.0" y2="400.8" stroke="#000" stroke-width="0.75"/>
<text x="301.70" y="402.87" font-size="6.0" text-anchor="end">20</text>
<line x1="303.1" y1="391.3" x2="305.0" y2="391.3" stroke="#000" stroke-width="0.75"/>
<text x="301.70" y="393.44" font-size="6.0" text-anchor="end">40</text>
<line x1="303.1" y1="381.9" x2="305.0" y2="381.9" stroke="#000" stroke-width="0.75"/>
<text x="301.70" y="384.01" font-size="6.0" text-anchor="end">60</text>
<line x1="303.1" y1="372.5" x2="305.0" y2="372.5" stroke="#000" stroke-width="0.75"/>
<text x="301.70" y="374.58" font-size="6.0" text-anchor="end">80</text>
<line x1="303.1" y1="363.1" x2="305.0" y2="363.1" stroke="#000" stroke-width="0.75"/>
<text x="301.70" y="365.15" font-size="6.0" text-anchor="end">100</text>
<line x1="310.8" y1="410.2" x2="310.8" y2="412.1" stroke="#000" stroke-width="0.75"/>
<line x1="323.8" y1="410.2" x2="323.8" y2="412.1" stroke="#000" stroke-width="0.75"/>
<line x1="336.7" y1="410.2" x2="336.7" y2="412.1" stroke="#000" stroke-width="0.75"/>
<line x1="349.6" y1="410.2" x2="349.6" y2="412.1" stroke="#000" stroke-width="0.75"/>
<line x1="362.6" y1="410.2" x2="362.6" y2="412.1" stroke="#000" stroke-width="0.75"/>
<line x1="375.6" y1="410.2" x2="375.6" y2="412.1" stroke="#000" stroke-width="0.75"/>
<line x1="388.5" y1="410.2" x2="388.5" y2="412.1" stroke="#000" stroke-width="0.75"/>
<text transform="translate(285.8,385.3) rotate(-90)" font-size="6.8" font-weight="bold" text-anchor="middle" fill="#222" textLength="41.8" lengthAdjust="spacingAndGlyphs">Target killing (%)</text>
<polygon points="310.8,398.9 323.8,403.4 336.7,407.9 349.6,408.3 362.6,407.6 375.6,407.0 388.5,401.6 388.5,405.3 375.6,410.2 362.6,410.2 349.6,410.2 336.7,410.2 323.8,407.1 310.8,402.7" fill="#d9892b" opacity="0.09"/>
<polygon points="310.8,397.4 323.8,391.9 336.7,389.7 349.6,382.0 362.6,375.5 375.6,369.9 388.5,365.4 388.5,369.2 375.6,373.7 362.6,379.2 349.6,385.8 336.7,393.5 323.8,395.6 310.8,401.1" fill="#49a9d8" opacity="0.09"/>
<polygon points="310.8,389.0 323.8,380.2 336.7,379.6 349.6,373.8 362.6,365.5 375.6,363.1 388.5,363.1 388.5,365.7 375.6,366.1 362.6,369.3 349.6,377.6 336.7,383.4 323.8,383.9 310.8,392.8" fill="#d4217d" opacity="0.09"/>
<polygon points="310.8,405.2 323.8,394.8 336.7,385.1 349.6,377.8 362.6,368.7 375.6,363.1 388.5,363.1 388.5,365.7 375.6,366.4 362.6,372.5 349.6,381.6 336.7,388.9 323.8,398.6 310.8,409.0" fill="#c8102e" opacity="0.09"/>
<polygon points="310.8,374.7 323.8,374.2 336.7,376.3 349.6,369.7 362.6,368.7 375.6,363.1 388.5,363.1 388.5,365.5 375.6,366.1 362.6,372.5 349.6,373.4 336.7,380.1 323.8,377.9 310.8,378.5" fill="#3fa0a8" opacity="0.14"/>
<polyline points="310.8,400.8 323.8,405.2 336.7,409.8 349.6,410.2 362.6,409.5 375.6,408.9 388.5,403.5" fill="none" stroke="#d9892b" stroke-width="0.85"/>
<path d="M309.33 401.82 L312.27 401.82 L310.80 399.30 Z" fill="#d9892b"/>
<path d="M322.28 406.30 L325.22 406.30 L323.75 403.78 Z" fill="#d9892b"/>
<path d="M335.23 410.87 L338.17 410.87 L336.70 408.35 Z" fill="#d9892b"/>
<path d="M348.18 411.25 L351.12 411.25 L349.65 408.73 Z" fill="#d9892b"/>
<path d="M361.13 410.54 L364.07 410.54 L362.60 408.02 Z" fill="#d9892b"/>
<path d="M374.08 409.98 L377.02 409.98 L375.55 407.46 Z" fill="#d9892b"/>
<path d="M387.03 404.51 L389.97 404.51 L388.50 401.99 Z" fill="#d9892b"/>
<polyline points="310.8,402.9 323.8,400.8 336.7,406.2 349.6,396.7 362.6,394.3 375.6,396.7 388.5,393.0" fill="none" stroke="#474759" stroke-width="0.85"/>
<path d="M309.33 401.84 L312.27 401.84 L310.80 404.36 Z" fill="#474759"/>
<path d="M322.28 399.72 L325.22 399.72 L323.75 402.24 Z" fill="#474759"/>
<path d="M335.23 405.14 L338.17 405.14 L336.70 407.66 Z" fill="#474759"/>
<path d="M348.18 395.62 L351.12 395.62 L349.65 398.14 Z" fill="#474759"/>
<path d="M361.13 393.26 L364.07 393.26 L362.60 395.78 Z" fill="#474759"/>
<path d="M374.08 395.62 L377.02 395.62 L375.55 398.14 Z" fill="#474759"/>
<path d="M387.03 391.99 L389.97 391.99 L388.50 394.51 Z" fill="#474759"/>
<polyline points="310.8,399.3 323.8,393.7 336.7,391.6 349.6,383.9 362.6,377.3 375.6,371.8 388.5,367.3" fill="none" stroke="#49a9d8" stroke-width="0.85"/>
<circle cx="310.80" cy="399.26" r="1.05" fill="#49a9d8"/>
<circle cx="323.75" cy="393.74" r="1.05" fill="#49a9d8"/>
<circle cx="336.70" cy="391.58" r="1.05" fill="#49a9d8"/>
<circle cx="349.65" cy="383.89" r="1.05" fill="#49a9d8"/>
<circle cx="362.60" cy="377.34" r="1.05" fill="#49a9d8"/>
<circle cx="375.55" cy="371.82" r="1.05" fill="#49a9d8"/>
<circle cx="388.50" cy="367.29" r="1.05" fill="#49a9d8"/>
<polyline points="310.8,376.6 323.8,376.1 336.7,378.2 349.6,371.5 362.6,370.6 375.6,364.2 388.5,363.6" fill="none" stroke="#1f3a5c" stroke-width="0.85"/>
<circle cx="310.80" cy="376.58" r="1.05" fill="#1f3a5c"/>
<circle cx="323.75" cy="376.06" r="1.05" fill="#1f3a5c"/>
<circle cx="336.70" cy="378.23" r="1.05" fill="#1f3a5c"/>
<circle cx="349.65" cy="371.54" r="1.05" fill="#1f3a5c"/>
<circle cx="362.60" cy="370.59" r="1.05" fill="#1f3a5c"/>
<circle cx="375.55" cy="364.18" r="1.05" fill="#1f3a5c"/>
<circle cx="388.50" cy="363.62" r="1.05" fill="#1f3a5c"/>
<polyline points="310.8,407.1 323.8,396.7 336.7,387.0 349.6,379.7 362.6,370.6 375.6,364.5 388.5,363.8" fill="none" stroke="#c8102e" stroke-width="0.85"/>
<circle cx="310.80" cy="407.09" r="1.05" fill="#c8102e"/>
<circle cx="323.75" cy="396.67" r="1.05" fill="#c8102e"/>
<circle cx="336.70" cy="387.00" r="1.05" fill="#c8102e"/>
<circle cx="349.65" cy="379.69" r="1.05" fill="#c8102e"/>
<circle cx="362.60" cy="370.59" r="1.05" fill="#c8102e"/>
<circle cx="375.55" cy="364.51" r="1.05" fill="#c8102e"/>
<circle cx="388.50" cy="363.80" r="1.05" fill="#c8102e"/>
<polyline points="310.8,390.9 323.8,382.1 336.7,381.5 349.6,375.7 362.6,367.4 375.6,364.2 388.5,363.8" fill="none" stroke="#d4217d" stroke-width="0.85"/>
<circle cx="310.80" cy="390.87" r="1.05" fill="#d4217d"/>
<circle cx="323.75" cy="382.05" r="1.05" fill="#d4217d"/>
<circle cx="336.70" cy="381.53" r="1.05" fill="#d4217d"/>
<circle cx="349.65" cy="375.69" r="1.05" fill="#d4217d"/>
<circle cx="362.60" cy="367.43" r="1.05" fill="#d4217d"/>
<circle cx="375.55" cy="364.18" r="1.05" fill="#d4217d"/>
<circle cx="388.50" cy="363.80" r="1.05" fill="#d4217d"/>
<text transform="translate(311.1,417.0) rotate(-45)" font-size="6.2" text-anchor="end" fill="#222" textLength="23.0" lengthAdjust="spacingAndGlyphs">1/8 : 1 : 1</text>
<text transform="translate(324.1,417.0) rotate(-45)" font-size="6.2" text-anchor="end" fill="#222" textLength="23.0" lengthAdjust="spacingAndGlyphs">1/4 : 1 : 1</text>
<text transform="translate(337.0,417.0) rotate(-45)" font-size="6.2" text-anchor="end" fill="#222" textLength="23.0" lengthAdjust="spacingAndGlyphs">1/2 : 1 : 1</text>
<text transform="translate(349.9,417.0) rotate(-45)" font-size="6.2" text-anchor="end" fill="#222" textLength="16.3" lengthAdjust="spacingAndGlyphs">1 : 1 : 1</text>
<text transform="translate(362.9,417.0) rotate(-45)" font-size="6.2" text-anchor="end" fill="#222" textLength="16.3" lengthAdjust="spacingAndGlyphs">2 : 1 : 1</text>
<text transform="translate(375.9,417.0) rotate(-45)" font-size="6.2" text-anchor="end" fill="#222" textLength="16.3" lengthAdjust="spacingAndGlyphs">4 : 1 : 1</text>
<text transform="translate(388.8,417.0) rotate(-45)" font-size="6.2" text-anchor="end" fill="#222" textLength="16.3" lengthAdjust="spacingAndGlyphs">8 : 1 : 1</text>
<text x="348.00" y="442.20" font-size="7.4" text-anchor="middle" fill="#111" textLength="35.80" lengthAdjust="spacingAndGlyphs">E : T : C ratio</text>
<line x1="426.6" y1="297.5" x2="426.6" y2="347.3" stroke="#000" stroke-width="1.1"/>
<line x1="426.05" y1="347.3" x2="512.3" y2="347.3" stroke="#000" stroke-width="1.1"/>
<line x1="424.70000000000005" y1="347.3" x2="426.6" y2="347.3" stroke="#000" stroke-width="0.75"/>
<text x="423.30" y="349.40" font-size="6.0" text-anchor="end">0</text>
<line x1="424.70000000000005" y1="337.9" x2="426.6" y2="337.9" stroke="#000" stroke-width="0.75"/>
<text x="423.30" y="339.97" font-size="6.0" text-anchor="end">20</text>
<line x1="424.70000000000005" y1="328.4" x2="426.6" y2="328.4" stroke="#000" stroke-width="0.75"/>
<text x="423.30" y="330.54" font-size="6.0" text-anchor="end">40</text>
<line x1="424.70000000000005" y1="319.0" x2="426.6" y2="319.0" stroke="#000" stroke-width="0.75"/>
<text x="423.30" y="321.11" font-size="6.0" text-anchor="end">60</text>
<line x1="424.70000000000005" y1="309.6" x2="426.6" y2="309.6" stroke="#000" stroke-width="0.75"/>
<text x="423.30" y="311.68" font-size="6.0" text-anchor="end">80</text>
<line x1="424.70000000000005" y1="300.2" x2="426.6" y2="300.2" stroke="#000" stroke-width="0.75"/>
<text x="423.30" y="302.25" font-size="6.0" text-anchor="end">100</text>
<line x1="432.1" y1="347.3" x2="432.1" y2="349.2" stroke="#000" stroke-width="0.75"/>
<line x1="445.1" y1="347.3" x2="445.1" y2="349.2" stroke="#000" stroke-width="0.75"/>
<line x1="458.0" y1="347.3" x2="458.0" y2="349.2" stroke="#000" stroke-width="0.75"/>
<line x1="471.0" y1="347.3" x2="471.0" y2="349.2" stroke="#000" stroke-width="0.75"/>
<line x1="483.9" y1="347.3" x2="483.9" y2="349.2" stroke="#000" stroke-width="0.75"/>
<line x1="496.9" y1="347.3" x2="496.9" y2="349.2" stroke="#000" stroke-width="0.75"/>
<line x1="509.8" y1="347.3" x2="509.8" y2="349.2" stroke="#000" stroke-width="0.75"/>
<text transform="translate(406.8,323.3) rotate(-90)" font-size="6.8" font-weight="bold" text-anchor="middle" fill="#222" textLength="44.5" lengthAdjust="spacingAndGlyphs">Ctr. cell killing (%)</text>
<polygon points="432.1,345.4 445.1,345.4 458.0,345.4 471.0,345.4 483.9,339.8 496.9,342.3 509.8,338.1 509.8,341.8 496.9,346.1 483.9,343.5 471.0,347.3 458.0,347.3 445.1,347.3 432.1,347.3" fill="#d4217d" opacity="0.09"/>
<polygon points="432.1,345.4 445.1,345.4 458.0,345.4 471.0,345.4 483.9,345.4 496.9,342.7 509.8,333.7 509.8,337.4 496.9,346.5 483.9,347.3 471.0,347.3 458.0,347.3 445.1,347.3 432.1,347.3" fill="#c8102e" opacity="0.09"/>
<polygon points="432.1,345.4 445.1,345.4 458.0,340.3 471.0,345.4 483.9,345.4 496.9,342.1 509.8,332.8 509.8,336.6 496.9,345.9 483.9,347.3 471.0,347.3 458.0,344.0 445.1,347.3 432.1,347.3" fill="#3fa0a8" opacity="0.14"/>
<polyline points="432.1,347.3 445.1,347.3 458.0,347.3 471.0,347.3 483.9,347.3 496.9,347.3 509.8,347.3" fill="none" stroke="#d9892b" stroke-width="0.85"/>
<path d="M430.63 348.35 L433.57 348.35 L432.10 345.83 Z" fill="#d9892b"/>
<path d="M443.58 348.35 L446.52 348.35 L445.05 345.83 Z" fill="#d9892b"/>
<path d="M456.53 348.35 L459.47 348.35 L458.00 345.83 Z" fill="#d9892b"/>
<path d="M469.48 348.35 L472.42 348.35 L470.95 345.83 Z" fill="#d9892b"/>
<path d="M482.43 348.35 L485.37 348.35 L483.90 345.83 Z" fill="#d9892b"/>
<path d="M495.38 348.35 L498.32 348.35 L496.85 345.83 Z" fill="#d9892b"/>
<path d="M508.33 348.35 L511.27 348.35 L509.80 345.83 Z" fill="#d9892b"/>
<polyline points="432.1,347.3 445.1,347.3 458.0,347.3 471.0,347.3 483.9,347.3 496.9,347.3 509.8,347.3" fill="none" stroke="#474759" stroke-width="0.85"/>
<path d="M430.63 346.25 L433.57 346.25 L432.10 348.77 Z" fill="#474759"/>
<path d="M443.58 346.25 L446.52 346.25 L445.05 348.77 Z" fill="#474759"/>
<path d="M456.53 346.25 L459.47 346.25 L458.00 348.77 Z" fill="#474759"/>
<path d="M469.48 346.25 L472.42 346.25 L470.95 348.77 Z" fill="#474759"/>
<path d="M482.43 346.25 L485.37 346.25 L483.90 348.77 Z" fill="#474759"/>
<path d="M495.38 346.25 L498.32 346.25 L496.85 348.77 Z" fill="#474759"/>
<path d="M508.33 346.25 L511.27 346.25 L509.80 348.77 Z" fill="#474759"/>
<polyline points="432.1,347.3 445.1,347.3 458.0,347.3 471.0,347.3 483.9,347.3 496.9,347.3 509.8,347.3" fill="none" stroke="#49a9d8" stroke-width="0.85"/>
<circle cx="432.10" cy="347.30" r="1.05" fill="#49a9d8"/>
<circle cx="445.05" cy="347.30" r="1.05" fill="#49a9d8"/>
<circle cx="458.00" cy="347.30" r="1.05" fill="#49a9d8"/>
<circle cx="470.95" cy="347.30" r="1.05" fill="#49a9d8"/>
<circle cx="483.90" cy="347.30" r="1.05" fill="#49a9d8"/>
<circle cx="496.85" cy="347.30" r="1.05" fill="#49a9d8"/>
<circle cx="509.80" cy="347.30" r="1.05" fill="#49a9d8"/>
<polyline points="432.1,347.3 445.1,347.3 458.0,342.2 471.0,347.3 483.9,347.3 496.9,344.0 509.8,334.7" fill="none" stroke="#1f3a5c" stroke-width="0.85"/>
<circle cx="432.10" cy="347.30" r="1.05" fill="#1f3a5c"/>
<circle cx="445.05" cy="347.30" r="1.05" fill="#1f3a5c"/>
<circle cx="458.00" cy="342.16" r="1.05" fill="#1f3a5c"/>
<circle cx="470.95" cy="347.30" r="1.05" fill="#1f3a5c"/>
<circle cx="483.90" cy="347.30" r="1.05" fill="#1f3a5c"/>
<circle cx="496.85" cy="344.00" r="1.05" fill="#1f3a5c"/>
<circle cx="509.80" cy="334.71" r="1.05" fill="#1f3a5c"/>
<polyline points="432.1,347.3 445.1,347.3 458.0,347.3 471.0,347.3 483.9,347.3 496.9,344.6 509.8,335.6" fill="none" stroke="#c8102e" stroke-width="0.85"/>
<circle cx="432.10" cy="347.30" r="1.05" fill="#c8102e"/>
<circle cx="445.05" cy="347.30" r="1.05" fill="#c8102e"/>
<circle cx="458.00" cy="347.30" r="1.05" fill="#c8102e"/>
<circle cx="470.95" cy="347.30" r="1.05" fill="#c8102e"/>
<circle cx="483.90" cy="347.30" r="1.05" fill="#c8102e"/>
<circle cx="496.85" cy="344.57" r="1.05" fill="#c8102e"/>
<circle cx="509.80" cy="335.56" r="1.05" fill="#c8102e"/>
<polyline points="432.1,347.3 445.1,347.3 458.0,347.3 471.0,347.3 483.9,341.6 496.9,344.2 509.8,339.9" fill="none" stroke="#d4217d" stroke-width="0.85"/>
<circle cx="432.10" cy="347.30" r="1.05" fill="#d4217d"/>
<circle cx="445.05" cy="347.30" r="1.05" fill="#d4217d"/>
<circle cx="458.00" cy="347.30" r="1.05" fill="#d4217d"/>
<circle cx="470.95" cy="347.30" r="1.05" fill="#d4217d"/>
<circle cx="483.90" cy="341.64" r="1.05" fill="#d4217d"/>
<circle cx="496.85" cy="344.24" r="1.05" fill="#d4217d"/>
<circle cx="509.80" cy="339.94" r="1.05" fill="#d4217d"/>
<line x1="426.6" y1="360.4" x2="426.6" y2="410.2" stroke="#000" stroke-width="1.1"/>
<line x1="426.05" y1="410.2" x2="512.3" y2="410.2" stroke="#000" stroke-width="1.1"/>
<line x1="424.70000000000005" y1="410.2" x2="426.6" y2="410.2" stroke="#000" stroke-width="0.75"/>
<text x="423.30" y="412.30" font-size="6.0" text-anchor="end">0</text>
<line x1="424.70000000000005" y1="400.8" x2="426.6" y2="400.8" stroke="#000" stroke-width="0.75"/>
<text x="423.30" y="402.87" font-size="6.0" text-anchor="end">20</text>
<line x1="424.70000000000005" y1="391.3" x2="426.6" y2="391.3" stroke="#000" stroke-width="0.75"/>
<text x="423.30" y="393.44" font-size="6.0" text-anchor="end">40</text>
<line x1="424.70000000000005" y1="381.9" x2="426.6" y2="381.9" stroke="#000" stroke-width="0.75"/>
<text x="423.30" y="384.01" font-size="6.0" text-anchor="end">60</text>
<line x1="424.70000000000005" y1="372.5" x2="426.6" y2="372.5" stroke="#000" stroke-width="0.75"/>
<text x="423.30" y="374.58" font-size="6.0" text-anchor="end">80</text>
<line x1="424.70000000000005" y1="363.1" x2="426.6" y2="363.1" stroke="#000" stroke-width="0.75"/>
<text x="423.30" y="365.15" font-size="6.0" text-anchor="end">100</text>
<line x1="432.1" y1="410.2" x2="432.1" y2="412.1" stroke="#000" stroke-width="0.75"/>
<line x1="445.1" y1="410.2" x2="445.1" y2="412.1" stroke="#000" stroke-width="0.75"/>
<line x1="458.0" y1="410.2" x2="458.0" y2="412.1" stroke="#000" stroke-width="0.75"/>
<line x1="471.0" y1="410.2" x2="471.0" y2="412.1" stroke="#000" stroke-width="0.75"/>
<line x1="483.9" y1="410.2" x2="483.9" y2="412.1" stroke="#000" stroke-width="0.75"/>
<line x1="496.9" y1="410.2" x2="496.9" y2="412.1" stroke="#000" stroke-width="0.75"/>
<line x1="509.8" y1="410.2" x2="509.8" y2="412.1" stroke="#000" stroke-width="0.75"/>
<text transform="translate(406.8,386.2) rotate(-90)" font-size="6.8" font-weight="bold" text-anchor="middle" fill="#222" textLength="44.5" lengthAdjust="spacingAndGlyphs">Ctr. cell killing (%)</text>
<polygon points="432.1,401.5 445.1,406.7 458.0,408.3 471.0,408.3 483.9,408.3 496.9,408.3 509.8,408.3 509.8,410.2 496.9,410.2 483.9,410.2 471.0,410.2 458.0,410.2 445.1,410.2 432.1,405.2" fill="#d9892b" opacity="0.09"/>
<polygon points="432.1,408.3 445.1,408.3 458.0,408.3 471.0,408.3 483.9,407.9 496.9,407.2 509.8,402.3 509.8,406.1 496.9,410.2 483.9,410.2 471.0,410.2 458.0,410.2 445.1,410.2 432.1,410.2" fill="#49a9d8" opacity="0.09"/>
<polygon points="432.1,406.7 445.1,405.5 458.0,405.5 471.0,404.9 483.9,399.8 496.9,397.1 509.8,387.6 509.8,391.4 496.9,400.9 483.9,403.6 471.0,408.7 458.0,409.3 445.1,409.3 432.1,410.2" fill="#d4217d" opacity="0.09"/>
<polygon points="432.1,407.8 445.1,407.8 458.0,408.1 471.0,408.3 483.9,399.2 496.9,392.0 509.8,386.8 509.8,390.5 496.9,395.7 483.9,403.0 471.0,410.2 458.0,410.2 445.1,410.2 432.1,410.2" fill="#c8102e" opacity="0.09"/>
<polygon points="432.1,397.1 445.1,395.8 458.0,408.3 471.0,397.7 483.9,398.6 496.9,396.3 509.8,390.6 509.8,394.4 496.9,400.1 483.9,402.3 471.0,401.4 458.0,410.2 445.1,399.5 432.1,400.9" fill="#3fa0a8" opacity="0.14"/>
<polyline points="432.1,403.4 445.1,408.5 458.0,410.2 471.0,410.2 483.9,410.2 496.9,410.2 509.8,410.2" fill="none" stroke="#d9892b" stroke-width="0.85"/>
<path d="M430.63 404.41 L433.57 404.41 L432.10 401.89 Z" fill="#d9892b"/>
<path d="M443.58 409.60 L446.52 409.60 L445.05 407.08 Z" fill="#d9892b"/>
<path d="M456.53 411.25 L459.47 411.25 L458.00 408.73 Z" fill="#d9892b"/>
<path d="M469.48 411.25 L472.42 411.25 L470.95 408.73 Z" fill="#d9892b"/>
<path d="M482.43 411.25 L485.37 411.25 L483.90 408.73 Z" fill="#d9892b"/>
<path d="M495.38 411.25 L498.32 411.25 L496.85 408.73 Z" fill="#d9892b"/>
<path d="M508.33 411.25 L511.27 411.25 L509.80 408.73 Z" fill="#d9892b"/>
<polyline points="432.1,410.2 445.1,410.2 458.0,410.2 471.0,410.2 483.9,407.4 496.9,410.2 509.8,406.3" fill="none" stroke="#474759" stroke-width="0.85"/>
<path d="M430.63 409.15 L433.57 409.15 L432.10 411.67 Z" fill="#474759"/>
<path d="M443.58 409.15 L446.52 409.15 L445.05 411.67 Z" fill="#474759"/>
<path d="M456.53 409.15 L459.47 409.15 L458.00 411.67 Z" fill="#474759"/>
<path d="M469.48 409.15 L472.42 409.15 L470.95 411.67 Z" fill="#474759"/>
<path d="M482.43 406.32 L485.37 406.32 L483.90 408.84 Z" fill="#474759"/>
<path d="M495.38 409.15 L498.32 409.15 L496.85 411.67 Z" fill="#474759"/>
<path d="M508.33 405.24 L511.27 405.24 L509.80 407.76 Z" fill="#474759"/>
<polyline points="432.1,410.2 445.1,410.2 458.0,410.2 471.0,410.2 483.9,409.8 496.9,409.1 509.8,404.2" fill="none" stroke="#49a9d8" stroke-width="0.85"/>
<circle cx="432.10" cy="410.20" r="1.05" fill="#49a9d8"/>
<circle cx="445.05" cy="410.20" r="1.05" fill="#49a9d8"/>
<circle cx="458.00" cy="410.20" r="1.05" fill="#49a9d8"/>
<circle cx="470.95" cy="410.20" r="1.05" fill="#49a9d8"/>
<circle cx="483.90" cy="409.78" r="1.05" fill="#49a9d8"/>
<circle cx="496.85" cy="409.07" r="1.05" fill="#49a9d8"/>
<circle cx="509.80" cy="404.21" r="1.05" fill="#49a9d8"/>
<polyline points="432.1,399.0 445.1,397.7 458.0,410.2 471.0,399.5 483.9,400.4 496.9,398.2 509.8,392.5" fill="none" stroke="#1f3a5c" stroke-width="0.85"/>
<circle cx="432.10" cy="399.03" r="1.05" fill="#1f3a5c"/>
<circle cx="445.05" cy="397.66" r="1.05" fill="#1f3a5c"/>
<circle cx="458.00" cy="410.20" r="1.05" fill="#1f3a5c"/>
<circle cx="470.95" cy="399.54" r="1.05" fill="#1f3a5c"/>
<circle cx="483.90" cy="400.44" r="1.05" fill="#1f3a5c"/>
<circle cx="496.85" cy="398.18" r="1.05" fill="#1f3a5c"/>
<circle cx="509.80" cy="392.47" r="1.05" fill="#1f3a5c"/>
<polyline points="432.1,409.7 445.1,409.7 458.0,410.0 471.0,410.2 483.9,401.1 496.9,393.8 509.8,388.7" fill="none" stroke="#c8102e" stroke-width="0.85"/>
<circle cx="432.10" cy="409.73" r="1.05" fill="#c8102e"/>
<circle cx="445.05" cy="409.73" r="1.05" fill="#c8102e"/>
<circle cx="458.00" cy="409.96" r="1.05" fill="#c8102e"/>
<circle cx="470.95" cy="410.20" r="1.05" fill="#c8102e"/>
<circle cx="483.90" cy="401.10" r="1.05" fill="#c8102e"/>
<circle cx="496.85" cy="393.84" r="1.05" fill="#c8102e"/>
<circle cx="509.80" cy="388.65" r="1.05" fill="#c8102e"/>
<polyline points="432.1,408.5 445.1,407.4 458.0,407.4 471.0,406.8 483.9,401.7 496.9,399.0 509.8,389.5" fill="none" stroke="#d4217d" stroke-width="0.85"/>
<circle cx="432.10" cy="408.55" r="1.05" fill="#d4217d"/>
<circle cx="445.05" cy="407.37" r="1.05" fill="#d4217d"/>
<circle cx="458.00" cy="407.37" r="1.05" fill="#d4217d"/>
<circle cx="470.95" cy="406.81" r="1.05" fill="#d4217d"/>
<circle cx="483.90" cy="401.71" r="1.05" fill="#d4217d"/>
<circle cx="496.85" cy="399.03" r="1.05" fill="#d4217d"/>
<circle cx="509.80" cy="389.50" r="1.05" fill="#d4217d"/>
<text transform="translate(432.4,417.0) rotate(-45)" font-size="6.2" text-anchor="end" fill="#222" textLength="23.0" lengthAdjust="spacingAndGlyphs">1/8 : 1 : 1</text>
<text transform="translate(445.4,417.0) rotate(-45)" font-size="6.2" text-anchor="end" fill="#222" textLength="23.0" lengthAdjust="spacingAndGlyphs">1/4 : 1 : 1</text>
<text transform="translate(458.3,417.0) rotate(-45)" font-size="6.2" text-anchor="end" fill="#222" textLength="23.0" lengthAdjust="spacingAndGlyphs">1/2 : 1 : 1</text>
<text transform="translate(471.3,417.0) rotate(-45)" font-size="6.2" text-anchor="end" fill="#222" textLength="16.3" lengthAdjust="spacingAndGlyphs">1 : 1 : 1</text>
<text transform="translate(484.2,417.0) rotate(-45)" font-size="6.2" text-anchor="end" fill="#222" textLength="16.3" lengthAdjust="spacingAndGlyphs">2 : 1 : 1</text>
<text transform="translate(497.2,417.0) rotate(-45)" font-size="6.2" text-anchor="end" fill="#222" textLength="16.3" lengthAdjust="spacingAndGlyphs">4 : 1 : 1</text>
<text transform="translate(510.1,417.0) rotate(-45)" font-size="6.2" text-anchor="end" fill="#222" textLength="16.3" lengthAdjust="spacingAndGlyphs">8 : 1 : 1</text>
<text x="469.45" y="442.20" font-size="7.4" text-anchor="middle" fill="#111" textLength="35.80" lengthAdjust="spacingAndGlyphs">E : T : C ratio</text>
<text x="6.60" y="15.70" font-size="10.5" font-weight="bold" fill="#111">A</text>
<text x="193.40" y="15.50" font-size="10.5" font-weight="bold" fill="#111">B</text>
<text x="7.30" y="228.40" font-size="10.5" font-weight="bold" fill="#111">C</text>
<text x="395.80" y="15.60" font-size="10.5" font-weight="bold" fill="#111">D</text>
<text x="148.20" y="274.00" font-size="10.5" font-weight="bold" fill="#111">E</text>
<rect x="0.5" y="0.5" width="519" height="497" fill="none" stroke="#5a5a5a" stroke-width="1"/>
</svg>
</body></html>
